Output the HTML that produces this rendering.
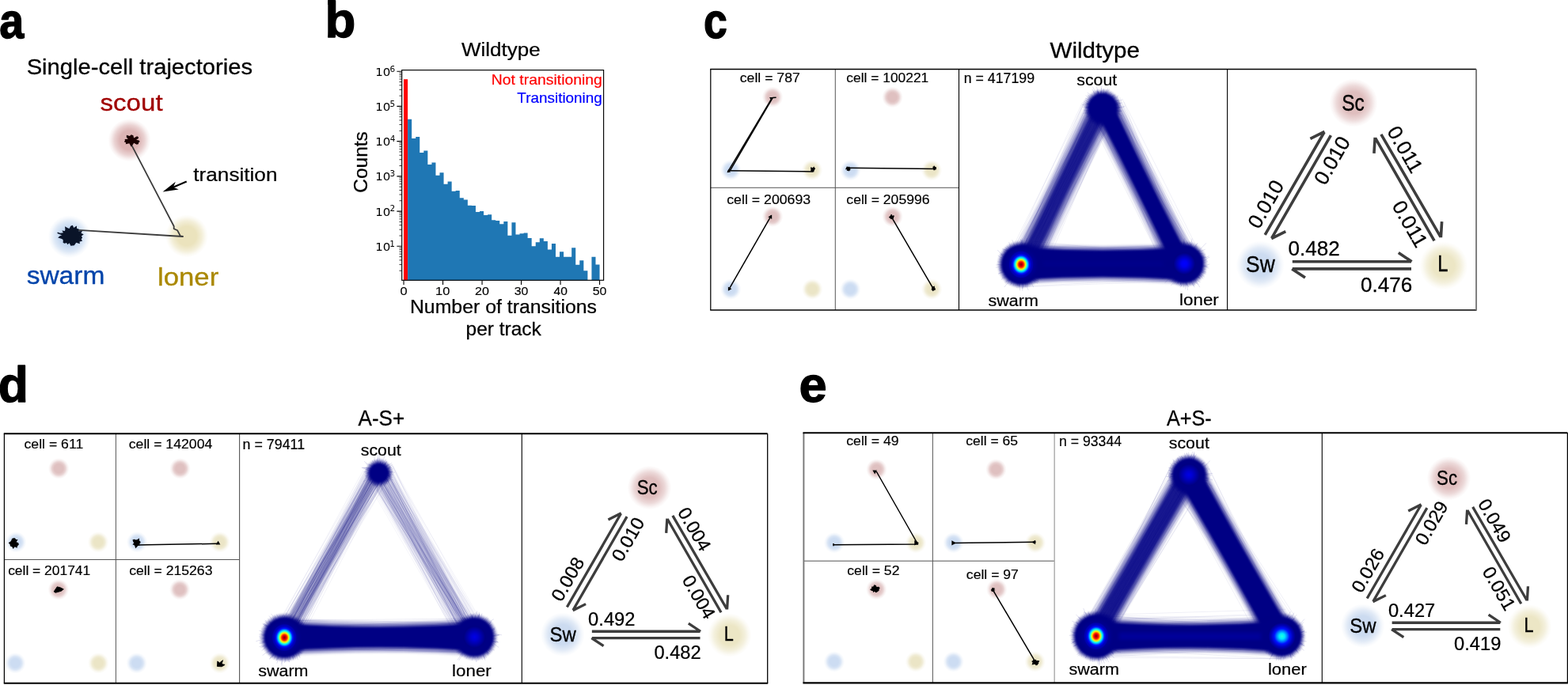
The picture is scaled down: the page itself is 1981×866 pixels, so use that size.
<!DOCTYPE html>
<html lang="en">
<head>
<meta charset="utf-8">
<title>Single-cell trajectories and state transitions</title>
<style>
html,body{margin:0;padding:0;background:#fff;}
body{width:1981px;height:866px;overflow:hidden;}
svg{display:block;}
text{font-family:"Liberation Sans",Arial,sans-serif;stroke:#000;stroke-linejoin:round;}
text.dj{font-family:"DejaVu Sans","Liberation Sans",sans-serif;stroke:none;}
</style>
</head>
<body>
<svg width="1981" height="866" viewBox="0 0 1981 866">
<defs>
<radialGradient id="gR"><stop offset="0" stop-color="#dcb4b4" stop-opacity="1"/><stop offset="0.45" stop-color="#dcb4b4" stop-opacity="1"/><stop offset="0.7" stop-color="#dcb4b4" stop-opacity="0.6"/><stop offset="0.88" stop-color="#dcb4b4" stop-opacity="0.18"/><stop offset="1" stop-color="#dcb4b4" stop-opacity="0"/></radialGradient>
<radialGradient id="gB"><stop offset="0" stop-color="#c5d8f0" stop-opacity="1"/><stop offset="0.45" stop-color="#c5d8f0" stop-opacity="1"/><stop offset="0.7" stop-color="#c5d8f0" stop-opacity="0.6"/><stop offset="0.88" stop-color="#c5d8f0" stop-opacity="0.18"/><stop offset="1" stop-color="#c5d8f0" stop-opacity="0"/></radialGradient>
<radialGradient id="gY"><stop offset="0" stop-color="#ebe3bd" stop-opacity="1"/><stop offset="0.45" stop-color="#ebe3bd" stop-opacity="1"/><stop offset="0.7" stop-color="#ebe3bd" stop-opacity="0.6"/><stop offset="0.88" stop-color="#ebe3bd" stop-opacity="0.18"/><stop offset="1" stop-color="#ebe3bd" stop-opacity="0"/></radialGradient>
<radialGradient id="gr"><stop offset="0" stop-color="#dfc0c0" stop-opacity="1"/><stop offset="0.42" stop-color="#dfc0c0" stop-opacity="1"/><stop offset="0.62" stop-color="#dfc0c0" stop-opacity="0.75"/><stop offset="0.82" stop-color="#dfc0c0" stop-opacity="0.25"/><stop offset="1" stop-color="#dfc0c0" stop-opacity="0"/></radialGradient>
<radialGradient id="gb"><stop offset="0" stop-color="#ccdcf2" stop-opacity="1"/><stop offset="0.42" stop-color="#ccdcf2" stop-opacity="1"/><stop offset="0.62" stop-color="#ccdcf2" stop-opacity="0.75"/><stop offset="0.82" stop-color="#ccdcf2" stop-opacity="0.25"/><stop offset="1" stop-color="#ccdcf2" stop-opacity="0"/></radialGradient>
<radialGradient id="gy"><stop offset="0" stop-color="#ebe5c6" stop-opacity="1"/><stop offset="0.42" stop-color="#ebe5c6" stop-opacity="1"/><stop offset="0.62" stop-color="#ebe5c6" stop-opacity="0.75"/><stop offset="0.82" stop-color="#ebe5c6" stop-opacity="0.25"/><stop offset="1" stop-color="#ebe5c6" stop-opacity="0"/></radialGradient>
<radialGradient id="gR2"><stop offset="0" stop-color="#dfbebe" stop-opacity="1"/><stop offset="0.45" stop-color="#dfbebe" stop-opacity="1"/><stop offset="0.7" stop-color="#dfbebe" stop-opacity="0.6"/><stop offset="0.88" stop-color="#dfbebe" stop-opacity="0.18"/><stop offset="1" stop-color="#dfbebe" stop-opacity="0"/></radialGradient>
<radialGradient id="gB2"><stop offset="0" stop-color="#ccdbf0" stop-opacity="1"/><stop offset="0.45" stop-color="#ccdbf0" stop-opacity="1"/><stop offset="0.7" stop-color="#ccdbf0" stop-opacity="0.6"/><stop offset="0.88" stop-color="#ccdbf0" stop-opacity="0.18"/><stop offset="1" stop-color="#ccdbf0" stop-opacity="0"/></radialGradient>
<radialGradient id="gY2"><stop offset="0" stop-color="#ece6c5" stop-opacity="1"/><stop offset="0.45" stop-color="#ece6c5" stop-opacity="1"/><stop offset="0.7" stop-color="#ece6c5" stop-opacity="0.6"/><stop offset="0.88" stop-color="#ece6c5" stop-opacity="0.18"/><stop offset="1" stop-color="#ece6c5" stop-opacity="0"/></radialGradient>
<radialGradient id="hotS"><stop offset="0" stop-color="#800000" stop-opacity="1"/><stop offset="0.1" stop-color="#c00000" stop-opacity="1"/><stop offset="0.2" stop-color="#ff1000" stop-opacity="1"/><stop offset="0.28" stop-color="#ff8000" stop-opacity="1"/><stop offset="0.35" stop-color="#ffee00" stop-opacity="1"/><stop offset="0.43" stop-color="#80ff80" stop-opacity="1"/><stop offset="0.51" stop-color="#00f0ff" stop-opacity="1"/><stop offset="0.6" stop-color="#0080ff" stop-opacity="1"/><stop offset="0.69" stop-color="#0010ff" stop-opacity="1"/><stop offset="0.84" stop-color="#0000c0" stop-opacity="1"/><stop offset="1" stop-color="#0000a8" stop-opacity="1"/></radialGradient>
<radialGradient id="hotG"><stop offset="0" stop-color="#0000b0" stop-opacity="1"/><stop offset="0.55" stop-color="#0000a2" stop-opacity="0.9"/><stop offset="0.8" stop-color="#000090" stop-opacity="0.5"/><stop offset="1" stop-color="#00007f" stop-opacity="0"/></radialGradient>
<radialGradient id="hotB"><stop offset="0" stop-color="#0000ff" stop-opacity="1"/><stop offset="0.25" stop-color="#0000f4" stop-opacity="1"/><stop offset="0.6" stop-color="#0000c0" stop-opacity="1"/><stop offset="1" stop-color="#00007f" stop-opacity="1"/></radialGradient>
<radialGradient id="hotB2"><stop offset="0" stop-color="#0000e6" stop-opacity="1"/><stop offset="0.3" stop-color="#0000d0" stop-opacity="1"/><stop offset="1" stop-color="#00007f" stop-opacity="1"/></radialGradient>
<radialGradient id="hotC"><stop offset="0" stop-color="#20ffe0" stop-opacity="1"/><stop offset="0.2" stop-color="#00e8ff" stop-opacity="1"/><stop offset="0.38" stop-color="#0080ff" stop-opacity="1"/><stop offset="0.55" stop-color="#0010ff" stop-opacity="1"/><stop offset="0.78" stop-color="#0000b8" stop-opacity="1"/><stop offset="1" stop-color="#00007f" stop-opacity="1"/></radialGradient>
<linearGradient id="midB" x1="0" y1="0" x2="0" y2="1"><stop offset="0" stop-color="#00007f"/><stop offset="0.5" stop-color="#0000a6"/><stop offset="1" stop-color="#00007f"/></linearGradient>
<filter id="bl1" x="-20%" y="-20%" width="140%" height="140%"><feGaussianBlur stdDeviation="1.3"/></filter>
<filter id="bl3" x="-20%" y="-20%" width="140%" height="140%"><feGaussianBlur stdDeviation="2.6"/></filter>
</defs>
<rect width="1981" height="866" fill="#fff"/>
<g id="panel-a">
<text transform="translate(-0.73 47.7) scale(0.8763 1.0000)" font-size="63.5" font-weight="bold" stroke-width="1.45">a</text>
<text transform="translate(33.64 94.3) scale(1.0614 1.0000)" font-size="27.5" stroke-width="0.29">Single-cell trajectories</text>
<text transform="translate(126.56 139.7) scale(1.0949 1.0000)" font-size="30.2" style="fill:#a00000;stroke:#a00000" stroke-width="0.3">scout</text>
<text transform="translate(33.65 359.4) scale(1.0888 1.0000)" font-size="30.8" style="fill:#0044aa;stroke:#0044aa" stroke-width="0.31">swarm</text>
<text transform="translate(198.92 360.8) scale(1.1152 1.0000)" font-size="31.2" style="fill:#aa8800;stroke:#aa8800" stroke-width="0.31">loner</text>
<text transform="translate(244.34 228.8) scale(1.0948 1.0000)" font-size="23.9" stroke-width="0.24">transition</text>
<circle cx="163.6" cy="177.2" r="27" fill="url(#gR)"/>
<circle cx="87.7" cy="299.2" r="27" fill="url(#gB)"/>
<circle cx="236" cy="298.4" r="27" fill="url(#gY)"/>
<polyline points="165.7,182.4 219.7,286 219.7,289.2 224.2,291.3 227.9,298.3 231,299 95,290.6" fill="none" stroke="#3c3c3c" stroke-width="1.8" stroke-linejoin="round"/>
<path d="M72.6 294.2L82 298" stroke="#0a1428" stroke-width="1.6" fill="none"/>
<polygon points="175.61,177.6 176.73,179.1 175.09,180.24 174.97,181.99 172.81,182.79 169.09,180.77 168.11,182.4 165.68,185.57 164.19,182.67 163.28,181.23 158.77,182.37 159.12,180.31 156.84,179.23 158.02,177.6 157.57,176.08 161.78,175.79 159.78,173.41 159.89,170.84 163.84,171.94 165.79,170.21 168.41,171.24 169.08,174.44 173.09,172.15 174.88,173.26 174.86,175.03 172.05,176.84" fill="#1a0000"/>
<polygon points="102.86,298.4 104.1,300.42 102.68,302.16 103.98,304.86 100.55,305.46 100.84,308.37 96.24,306.65 95.18,308.36 93.78,310.32 91.54,310.6 89.3,310.82 87.68,307.22 85.25,309.17 84.16,307.12 81.47,307.71 79.58,306.79 79.79,304.37 79.4,302.75 77.37,301.75 73.22,300.6 75.31,298.4 78.75,296.96 75.91,294.64 79.92,294.27 78.34,291.52 81.92,292.02 82.41,290.21 82.06,286.13 85.49,288.26 87.56,288.93 89.3,285.77 91.8,284.79 93.19,288.07 96.84,285.62 97.13,289.1 99.56,289.54 99.27,292.14 103.97,291.95 102.39,294.73 105.74,296.15" fill="#0a1428"/>
<path d="M235.7 229.4 L217 237.6" stroke="#000" stroke-width="2.2" fill="none"/>
<path d="M205.6 242.5 L221.8 229.7 L218.9 236.8 L225.8 239.6 Z" fill="#000"/>
</g>
<g id="panel-b">
<text transform="translate(410.4 47.2) scale(1.0019 1.0000)" font-size="63.5" font-weight="bold" stroke-width="1.27">b</text>
<rect x="414.3" y="0" width="9.5" height="6" fill="#000"/>
<text transform="translate(582.9 70.6) scale(1.0836 1.0000)" font-size="24" stroke-width="0.24">Wildtype</text>
<rect x="510.05" y="100.2" width="5.05" height="254.1" fill="#f00"/>
<path d="M515.1 354.3 V150.7 H520.15 V175 H525.2 V172.9 H530.25 V193.1 H535.31 V190.5 H540.36 V208.1 H545.41 V205.4 H550.46 V221.8 H555.51 V218.3 H560.56 V232.8 H565.61 V229.6 H570.66 V241.8 H575.71 V240.9 H580.76 V250.3 H585.82 V252.4 H590.87 V259.7 H595.92 V260.1 H600.97 V268 H606.02 V267.1 H611.07 V271.9 H616.12 V271.2 H621.17 V278.2 H626.22 V279 H631.27 V283.2 H636.33 V279.9 H641.38 V297.8 H646.43 V281.2 H651.48 V296.4 H656.53 V295.3 H661.58 V294.5 H666.63 V301 H671.68 V311.2 H676.73 V306.3 H681.78 V301.3 H686.84 V305.1 H691.89 V315.6 H696.94 V308 H701.99 V324.8 H707.04 V318.2 H712.09 V324.8 H717.14 V324.8 H722.19 V313.3 H727.24 V334.7 H732.29 V329.2 H737.35 V342.3 H742.4 V354.3 H747.45 V324.8 H752.5 V334.5 H757.55 V354.3 Z" fill="#1f77b4"/>
<path d="M501.4 311.3H507.7M501.4 267.08H507.7M501.4 222.86H507.7M501.4 178.64H507.7M501.4 134.42H507.7M501.4 90.2H507.7M510.05 354.3V360.1M559.55 354.3V360.1M609.05 354.3V360.1M658.55 354.3V360.1M708.05 354.3V360.1M757.55 354.3V360.1" stroke="#000" stroke-width="1.1" fill="none"/>
<path d="M504.5 342.21H507.7M504.5 334.42H507.7M504.5 328.9H507.7M504.5 324.61H507.7M504.5 321.11H507.7M504.5 318.15H507.7M504.5 315.59H507.7M504.5 313.32H507.7M504.5 297.99H507.7M504.5 290.2H507.7M504.5 284.68H507.7M504.5 280.39H507.7M504.5 276.89H507.7M504.5 273.93H507.7M504.5 271.37H507.7M504.5 269.1H507.7M504.5 253.77H507.7M504.5 245.98H507.7M504.5 240.46H507.7M504.5 236.17H507.7M504.5 232.67H507.7M504.5 229.71H507.7M504.5 227.15H507.7M504.5 224.88H507.7M504.5 209.55H507.7M504.5 201.76H507.7M504.5 196.24H507.7M504.5 191.95H507.7M504.5 188.45H507.7M504.5 185.49H507.7M504.5 182.93H507.7M504.5 180.66H507.7M504.5 165.33H507.7M504.5 157.54H507.7M504.5 152.02H507.7M504.5 147.73H507.7M504.5 144.23H507.7M504.5 141.27H507.7M504.5 138.71H507.7M504.5 136.44H507.7M504.5 121.11H507.7M504.5 113.32H507.7M504.5 107.8H507.7M504.5 103.51H507.7M504.5 100.01H507.7M504.5 97.05H507.7M504.5 94.49H507.7M504.5 92.22H507.7" stroke="#000" stroke-width="0.8" fill="none"/>
<rect x="507.7" y="88.6" width="254.9" height="265.7" fill="none" stroke="#000" stroke-width="1.15"/>
<text class="dj" transform="translate(474.25 316.9) scale(1.0739 1)" font-size="14">10<tspan x="16.67" dy="-5.3" font-size="9.8">1</tspan></text>
<text class="dj" transform="translate(474.25 272.68) scale(1.0739 1)" font-size="14">10<tspan x="17.03" dy="-5.3" font-size="9.8">2</tspan></text>
<text class="dj" transform="translate(474.25 228.46) scale(1.0739 1)" font-size="14">10<tspan x="17.01" dy="-5.3" font-size="9.8">3</tspan></text>
<text class="dj" transform="translate(474.25 184.24) scale(1.0739 1)" font-size="14">10<tspan x="17.28" dy="-5.3" font-size="9.8">4</tspan></text>
<text class="dj" transform="translate(474.25 140.02) scale(1.0739 1)" font-size="14">10<tspan x="16.98" dy="-5.3" font-size="9.8">5</tspan></text>
<text class="dj" transform="translate(474.25 95.8) scale(1.0739 1)" font-size="14">10<tspan x="17.06" dy="-5.3" font-size="9.8">6</tspan></text>
<text transform="translate(505.47 372.9) scale(1.1823 1.0000)" font-size="13.9" stroke-width="0.13">0</text>
<text transform="translate(550.09 372.9) scale(1.1862 1.0000)" font-size="13.9" stroke-width="0.13">10</text>
<text transform="translate(600.02 372.9) scale(1.1572 1.0000)" font-size="13.9" stroke-width="0.13">20</text>
<text transform="translate(649.73 372.9) scale(1.1432 1.0000)" font-size="13.9" stroke-width="0.13">30</text>
<text transform="translate(699.47 372.9) scale(1.1269 1.0000)" font-size="13.9" stroke-width="0.14">40</text>
<text transform="translate(748.69 372.9) scale(1.1460 1.0000)" font-size="13.9" stroke-width="0.13">50</text>
<text transform="translate(517.88 396) scale(1.0627 1.0000)" font-size="23.4" stroke-width="0.24">Number of transitions</text>
<text transform="translate(588.54 424.1) scale(1.0462 1.0000)" font-size="23.4" stroke-width="0.25">per track</text>
<text transform="translate(455.9 204.7) rotate(-90) scale(1.0197 1) translate(-38.19 8.25)" font-size="24" stroke-width="0.26">Counts</text>
<text transform="translate(620.8 107.1) scale(1.0834 1.0000)" font-size="17.9" style="fill:#f00;stroke:#f00" stroke-width="0.18">Not transitioning</text>
<text transform="translate(653.37 129.8) scale(1.0560 1.0000)" font-size="17.9" style="fill:#00f;stroke:#00f" stroke-width="0.19">Transitioning</text>
</g>
<g id="panel-c">
<text transform="translate(889.09 47.5) scale(0.8441 1.0000)" font-size="63.5" font-weight="bold" stroke-width="1.5">c</text>
<text transform="translate(1326.51 73) scale(1.0634 1.0000)" font-size="27.8" stroke-width="0.29">Wildtype</text>
<text transform="translate(934.74 104.4) scale(1.0385 1.0000)" font-size="17" stroke-width="0.18">cell = 787</text>
<circle cx="976" cy="122.7" r="13.2" fill="url(#gr)"/>
<circle cx="923.2" cy="214.9" r="13.2" fill="url(#gb)"/>
<circle cx="1026" cy="214.9" r="13.2" fill="url(#gy)"/>
<polyline points="975.2,124.2 919.3,217.6" fill="none" stroke="#000" stroke-width="1.5" stroke-linejoin="round"/>
<polyline points="922.4,215.6 976.2,123.6 980.6,123.2" fill="none" stroke="#000" stroke-width="1.5" stroke-linejoin="round"/>
<polyline points="920,215.8 1027.3,216.9" fill="none" stroke="#000" stroke-width="1.5" stroke-linejoin="round"/>
<polygon points="1029.44,214.3 1028.8,215.21 1028.49,216.06 1028.32,217.55 1027.29,217.21 1026.56,216.84 1025.7,217.05 1024.74,216.69 1024.14,215.63 1024.49,214.3 1024.13,212.97 1024.14,211.24 1025.77,211.71 1026.63,212.3 1027.28,211.45 1028.53,210.56 1028.88,212.1 1030.13,212.75" fill="#000"/>
<polygon points="976.55,122.9 974.3,126.8 972.05,122.9" fill="#000"/>
<polygon points="918.61,218.17 920.15,213.94 923.04,217.39" fill="#000"/>
<text transform="translate(1069.35 104.4) scale(1.0237 1.0000)" font-size="17" stroke-width="0.18">cell = 100221</text>
<circle cx="1127.5" cy="122.9" r="13.2" fill="url(#gr)"/>
<circle cx="1074.4" cy="215.3" r="13.2" fill="url(#gb)"/>
<circle cx="1177" cy="215.3" r="13.2" fill="url(#gy)"/>
<polyline points="1070,212.2 1182,213.4" fill="none" stroke="#000" stroke-width="1.5" stroke-linejoin="round"/>
<polygon points="1075.79,213 1073.71,213.61 1074.62,215.09 1073.48,215.56 1072.48,216.42 1071.26,215.71 1069.84,215.99 1069.99,214.34 1068.04,214.21 1068.67,213 1068.97,212.09 1069.56,211.34 1070.02,210.28 1071.46,211.28 1072.37,210.17 1072.75,211.55 1074,211.37 1074.05,212.28" fill="#000"/>
<polygon points="1183.12,212.8 1182.71,213.63 1182.59,214.61 1181.33,214.17 1181.05,215.54 1180.23,215.07 1179.35,215.14 1179.31,213.98 1178.47,213.64 1178.7,212.8 1178.48,211.97 1178.39,210.79 1179.41,210.57 1180.01,209.17 1181.03,210.16 1181.5,211.11 1182.51,211.06 1182.91,211.89" fill="#000"/>
<text transform="translate(918.24 257.7) scale(1.0428 1.0000)" font-size="17" stroke-width="0.18">cell = 200693</text>
<circle cx="976" cy="273.7" r="13.2" fill="url(#gr)"/>
<circle cx="923.2" cy="365.6" r="13.2" fill="url(#gb)"/>
<circle cx="1026.3" cy="365.6" r="13.2" fill="url(#gy)"/>
<polyline points="974.5,272.4 920.6,366.4" fill="none" stroke="#000" stroke-width="1.5" stroke-linejoin="round"/>
<polygon points="975.2,271.43 975.2,276.97 970.4,274.2" fill="#000"/>
<polygon points="919.9,367.8 919.9,362.6 924.4,365.2" fill="#000"/>
<text transform="translate(1069.35 257.7) scale(1.0358 1.0000)" font-size="17" stroke-width="0.18">cell = 205996</text>
<circle cx="1127.6" cy="273.7" r="13.2" fill="url(#gr)"/>
<circle cx="1074.3" cy="365.6" r="13.2" fill="url(#gb)"/>
<circle cx="1177.2" cy="365.6" r="13.2" fill="url(#gy)"/>
<polyline points="1125.9,273.7 1179.2,365.1" fill="none" stroke="#000" stroke-width="1.5" stroke-linejoin="round"/>
<polygon points="1129.15,274.3 1129.17,275.31 1128.87,276.37 1127.76,276.65 1126.89,277.07 1125.88,277.27 1125.16,276.45 1124.23,276.12 1123.65,275.3 1122.86,274.3 1124.15,273.48 1124.63,272.82 1125.21,272.23 1125.78,270.77 1126.92,271.35 1127.22,272.87 1128.92,272.19 1130.13,272.94" fill="#000"/>
<polygon points="1181.6,365 1182.23,366.36 1180.7,366.64 1180.16,367.31 1179.38,367.47 1178.49,368.35 1177.85,367.31 1177.35,366.6 1176.28,366.14 1177.44,365 1176.86,364.1 1177.36,363.42 1177.55,362.11 1178.56,362.11 1179.47,361.91 1180.77,361.46 1180.8,363.26 1181.32,364.02" fill="#000"/>
<g fill="none" stroke="#000084" stroke-width="0.55" stroke-linecap="round">
<path d="M1382.0 133.8L1295.2 331.6M1382.8 131.0L1282.0 322.6M1389.5 137.1L1291.5 329.8M1401.8 141.9L1309.7 335.3M1388.1 131.4L1305.6 336.0M1392.8 128.5L1295.1 332.9M1392.8 138.7L1296.0 334.4M1399.8 140.6L1301.6 335.7M1392.8 140.5L1289.6 330.0M1395.1 137.1L1286.6 333.8M1378.5 135.3L1288.3 329.2M1385.7 132.2L1285.4 328.1M1394.7 141.4L1296.7 332.0M1393.3 141.8L1292.6 333.7M1393.7 140.9L1297.1 337.1M1390.7 137.3L1296.9 331.3M1379.6 130.5L1286.5 331.8M1380.1 127.9L1293.6 331.6M1410.7 142.9L1299.8 333.1M1388.7 130.5L1292.7 340.2M1407.6 142.9L1301.5 338.7M1395.7 135.7L1304.1 339.1M1404.6 135.1L1291.3 331.2M1372.0 123.5L1290.3 328.0M1382.8 133.2L1278.6 327.7M1371.3 127.3L1273.3 325.1M1380.1 128.1L1294.5 337.4M1367.3 129.8L1276.5 324.7M1391.7 134.7L1284.0 327.1M1383.9 127.7L1283.4 332.4M1401.5 142.5L1297.3 333.8M1386.5 135.1L1288.7 334.3M1383.8 130.8L1290.0 331.6M1387.0 132.6L1274.1 324.4M1385.2 130.9L1292.7 334.1M1405.9 142.8L1307.7 343.7M1388.8 135.9L1279.8 333.7M1384.2 137.5L1287.0 333.3M1388.4 129.7L1293.7 339.7M1393.5 131.5L1305.0 340.6M1377.8 127.5L1293.6 331.0M1380.9 131.4L1288.7 333.7M1386.2 136.3L1288.2 331.3M1370.1 125.8L1286.5 328.3M1379.8 131.6L1287.7 331.5" opacity="0.12"/>
<path d="M1385.2 133.5L1290.3 325.1M1409.0 142.5L1312.0 344.6M1389.0 136.4L1305.8 343.1M1396.6 135.2L1297.6 339.4M1393.0 136.5L1285.6 332.6M1388.6 129.2L1297.5 333.0M1389.1 135.3L1300.6 339.3M1387.5 133.5L1297.1 334.9M1394.3 135.9L1293.3 328.4M1394.8 139.7L1294.9 340.7M1387.9 134.2L1299.3 336.2M1400.6 139.4L1300.0 341.9M1401.5 140.0L1306.9 341.8M1405.8 149.0L1300.8 343.6M1382.0 128.5L1300.2 331.9M1382.4 134.9L1278.7 328.5M1393.2 145.1L1291.7 332.4M1408.8 138.0L1313.9 345.4M1391.9 133.6L1286.9 330.2M1396.8 137.6L1286.7 331.7M1398.3 144.6L1311.5 337.9M1402.1 142.8L1298.7 334.8M1379.4 134.2L1286.4 334.8M1388.4 130.8L1290.3 335.4M1393.7 140.9L1288.0 330.2M1374.5 130.2L1281.2 331.8M1400.6 139.3L1292.9 331.7M1394.3 137.3L1292.0 336.5M1400.9 137.5L1305.8 334.6M1395.1 146.5L1289.9 327.8M1376.4 127.3L1281.8 328.7M1382.4 131.0L1296.0 333.1M1390.7 134.7L1287.6 331.4M1403.9 144.8L1317.3 345.4M1379.1 129.8L1285.3 334.9M1396.7 137.9L1309.1 348.4M1381.2 134.3L1306.9 340.2M1406.9 135.8L1306.4 334.7M1391.7 139.7L1300.6 342.2M1378.4 129.2L1281.8 327.6M1402.0 142.4L1294.2 335.4M1399.7 135.0L1303.9 338.9M1390.4 134.6L1289.9 333.1M1394.8 142.5L1298.5 336.3M1402.1 141.1L1298.5 338.0" opacity="0.12"/>
<path d="M1387.4 135.8L1485.0 334.9M1399.5 133.6L1499.4 325.2M1386.1 143.8L1494.1 335.9M1401.3 130.3L1496.5 324.9M1380.0 145.0L1483.2 336.3M1392.5 140.5L1486.8 339.6M1395.6 133.8L1509.4 322.4M1395.2 134.5L1481.7 342.9M1403.1 131.3L1495.8 336.8M1389.9 135.4L1482.1 336.3M1396.3 138.1L1488.3 342.3M1411.8 126.6L1514.9 322.7M1392.6 141.9L1502.9 329.3M1393.1 134.4L1499.5 329.8M1390.8 136.9L1480.2 340.1M1396.2 141.1L1481.5 334.7M1392.9 134.1L1492.0 332.9M1381.5 142.5L1501.9 323.9M1392.7 136.3L1479.5 331.3M1411.2 132.5L1485.9 332.9M1379.5 140.1L1479.3 339.0M1403.6 131.4L1501.8 329.6M1379.6 145.3L1494.7 333.3M1394.4 138.0L1479.9 339.1M1403.4 136.5L1486.0 332.6M1418.2 125.1L1497.8 331.3M1400.0 135.5L1502.6 327.8M1398.2 135.0L1500.6 327.7M1389.5 141.6L1499.1 333.7M1411.2 128.8L1511.3 327.6M1407.5 128.2L1502.2 333.5M1383.3 139.0L1487.1 336.1M1392.8 136.6L1490.3 332.6M1416.9 128.7L1510.1 327.0M1396.9 129.4L1489.7 334.6M1406.7 129.6L1487.6 342.4M1378.0 152.1L1475.9 347.4M1378.7 144.4L1487.8 333.7M1389.7 135.9L1484.3 338.5M1400.3 134.1L1481.6 342.4M1387.2 135.9L1493.1 332.4M1388.1 132.9L1493.3 334.1M1407.6 130.3L1506.5 326.3M1402.1 135.4L1501.1 338.0M1377.4 146.3L1480.8 339.7" opacity="0.12"/>
<path d="M1382.0 140.5L1474.1 346.5M1390.9 138.4L1492.0 330.4M1404.9 131.5L1497.3 334.3M1395.5 131.9L1509.3 323.5M1390.4 135.1L1485.5 341.2M1401.3 138.2L1499.8 328.3M1380.2 143.5L1486.9 340.4M1390.5 135.2L1497.0 339.4M1375.7 142.5L1486.6 338.9M1401.2 130.8L1494.5 336.0M1390.4 132.5L1474.1 344.3M1400.9 139.5L1513.0 323.0M1395.8 134.6L1486.7 334.3M1395.7 132.6L1491.2 332.2M1407.4 138.7L1508.1 329.4M1385.5 142.0L1490.8 334.4M1407.1 131.3L1512.0 325.1M1401.9 130.6L1491.2 336.0M1410.9 130.3L1497.0 334.7M1396.3 135.5L1502.0 338.1M1390.2 141.6L1494.1 329.9M1393.7 135.6L1509.5 329.5M1411.8 123.8L1506.3 326.0M1384.8 142.2L1489.7 343.0M1399.6 133.8L1492.8 331.8M1414.9 123.0L1493.0 337.9M1410.4 130.4L1502.7 333.0M1409.1 127.0L1509.4 318.3M1381.4 146.7L1490.7 335.0M1411.7 130.5L1508.5 324.6M1412.9 127.7L1488.0 337.8M1403.4 134.0L1504.1 330.1M1396.7 133.0L1504.1 329.9M1388.3 141.6L1476.1 341.5M1403.7 132.6L1484.4 338.2M1400.6 134.2L1496.6 336.3M1401.7 136.2L1487.3 336.3M1413.4 127.7L1501.1 328.0M1394.0 139.5L1483.9 333.9M1391.6 132.5L1494.3 330.5M1379.3 142.8L1498.6 332.3M1383.5 141.9L1496.3 330.3M1389.4 139.2L1490.1 338.1M1402.3 134.7L1503.5 336.3M1420.2 129.1L1519.4 327.5" opacity="0.12"/>
<path d="M1291.3 328.7L1498.5 311.7M1290.9 349.9L1495.9 339.1M1288.3 342.6L1500.2 337.7M1295.5 318.8L1495.9 317.3M1289.8 329.0L1500.5 329.5M1292.3 344.9L1490.4 352.3M1291.0 330.6L1493.9 320.4M1290.5 348.3L1497.7 329.4M1289.1 332.7L1496.5 332.7M1290.8 333.1L1497.9 318.1M1286.9 325.2L1494.0 334.0M1287.3 331.9L1499.3 346.8M1287.2 311.6L1492.9 313.6M1287.5 331.1L1491.6 324.7M1290.5 348.8L1498.3 341.0M1283.8 332.4L1500.1 323.2M1287.1 331.2L1500.6 329.0M1288.6 342.0L1493.1 334.8M1291.0 341.3L1492.3 348.3M1289.6 338.7L1498.2 345.4M1287.8 328.5L1497.5 342.4M1288.5 340.1L1493.2 348.6M1290.4 328.2L1498.8 337.8M1287.1 328.6L1497.4 339.0M1285.5 332.4L1493.7 342.4M1289.0 312.6L1498.0 323.2M1293.3 332.5L1495.5 324.0M1292.1 314.8L1497.8 327.3M1294.4 328.3L1495.6 326.9M1283.5 323.2L1497.3 315.9M1290.4 324.8L1495.5 348.2M1290.2 333.1L1498.2 320.0M1293.6 313.9L1496.8 335.9M1292.8 334.8L1494.2 333.3M1291.3 332.7L1497.4 341.0M1291.6 337.8L1501.4 312.5M1287.3 327.8L1489.9 330.0M1288.8 346.3L1498.2 338.3M1291.6 327.1L1490.4 340.8M1285.3 354.5L1495.0 355.4M1291.0 337.9L1494.7 334.9M1288.2 329.2L1497.5 318.3M1290.6 334.2L1501.5 339.1M1285.9 331.1L1498.0 334.6M1291.1 337.7L1498.6 348.4" opacity="0.12"/>
<path d="M1288.6 358.8L1495.2 342.4M1285.4 343.0L1492.4 349.7M1292.8 323.8L1500.4 319.3M1293.2 345.2L1493.2 324.2M1293.9 325.5L1499.1 328.1M1289.8 334.6L1493.5 335.3M1285.4 327.0L1495.1 332.4M1290.1 303.8L1492.7 323.3M1292.1 335.1L1492.9 319.4M1288.3 333.7L1496.3 318.8M1290.0 319.5L1498.9 308.2M1287.7 323.6L1496.8 343.6M1292.8 336.9L1497.2 321.8M1290.8 336.6L1498.4 342.7M1291.2 320.4L1493.2 339.5M1289.3 317.2L1499.1 315.1M1284.7 330.3L1501.8 346.9M1282.2 337.0L1494.3 337.8M1290.8 321.4L1493.4 320.6M1292.8 341.0L1494.2 321.1M1288.8 342.3L1494.0 354.3M1295.8 324.3L1498.9 311.4M1289.7 318.4L1496.0 336.7M1292.5 345.2L1492.5 345.4M1285.8 332.3L1494.8 326.9M1288.1 362.6L1499.4 350.7M1295.1 362.6L1494.7 354.8M1285.5 333.4L1496.5 332.2M1287.7 351.2L1499.7 328.6M1292.3 332.1L1499.8 335.2M1287.8 315.8L1497.1 335.1M1291.5 322.0L1490.0 330.5M1287.0 334.4L1500.6 339.4M1286.8 343.4L1497.1 341.5M1286.2 325.2L1495.8 320.6M1290.2 341.1L1498.3 345.3M1288.0 340.5L1493.7 322.8M1286.0 316.1L1501.0 319.3M1294.2 340.1L1488.8 345.7M1288.0 309.7L1496.9 320.7M1290.7 332.3L1497.6 324.3M1287.3 318.5L1494.0 331.1M1290.1 330.5L1496.1 333.9M1288.6 343.4L1495.2 333.1M1290.4 323.7L1500.6 345.3" opacity="0.12"/>
<path d="M1387.9 149.2L1385.1 158.6M1406.1 131.6L1416.3 130.5M1390.1 122.7L1392.0 108.4M1380.7 129.9L1372.0 120.7M1394.0 150.1L1392.7 158.3M1385.8 148.1L1381.4 154.2M1403.5 127.3L1408.4 122.1M1389.3 122.9L1383.0 117.5M1388.8 123.1L1387.4 116.7M1393.3 150.2L1393.2 159.2M1379.6 132.8L1369.9 128.5M1381.1 129.1L1372.5 124.8M1387.8 123.4L1385.5 114.9M1379.5 139.4L1371.8 140.0M1380.1 141.5L1374.5 144.6M1397.5 149.4L1401.0 156.1M1401.1 147.6L1408.6 159.2M1406.4 132.8L1413.8 130.6M1379.5 139.6L1368.7 143.3M1397.0 123.0L1401.2 116.2M1401.5 125.4L1408.1 121.5M1390.7 122.6L1391.3 116.3M1380.2 131.0L1369.0 132.4M1379.8 132.0L1369.2 130.6M1386.9 148.8L1386.2 157.7M1398.5 149.0L1409.1 157.6M1379.1 135.9L1367.5 132.8M1380.7 142.7L1374.2 144.7M1381.0 143.3L1374.7 151.7M1380.0 131.5L1367.9 132.3M1382.2 127.5L1376.1 124.5M1395.3 150.0L1396.0 156.2M1379.9 140.8L1373.8 142.6M1379.3 133.9L1372.2 135.7M1405.9 141.5L1416.4 140.4M1402.7 146.3L1407.6 155.0M1379.1 135.7L1371.9 136.6M1405.9 141.5L1412.4 147.4M1379.3 134.0L1372.9 137.3M1388.9 123.0L1385.6 110.3M1393.0 150.2L1392.3 159.9M1386.5 124.0L1387.1 116.0M1406.0 131.4L1412.1 127.6M1379.1 136.2L1367.6 135.1M1396.2 122.8L1401.6 112.7M1389.9 122.8L1387.6 115.2M1384.3 125.5L1378.7 119.3M1394.7 150.1L1396.5 156.3M1404.7 128.8L1412.5 120.7M1379.7 140.1L1369.3 139.8M1405.5 130.3L1408.6 122.7M1402.2 146.7L1405.2 157.0M1395.7 122.7L1397.7 113.3M1405.2 129.7L1412.9 125.9M1388.7 123.1L1386.8 115.6M1387.8 149.2L1377.5 155.4M1383.1 146.0L1374.3 155.4M1393.3 150.2L1396.1 157.7M1405.2 142.9L1412.1 150.5M1388.4 123.2L1385.8 114.1M1380.6 142.6L1372.2 143.1M1385.8 124.4L1382.1 114.7M1386.4 148.5L1381.7 156.7M1395.3 122.6L1399.7 113.7M1400.1 124.4L1404.9 119.6M1406.5 139.6L1413.2 139.5M1405.4 130.0L1412.1 123.2M1379.5 133.2L1371.3 126.2M1384.4 125.4L1381.3 115.5M1405.9 141.5L1417.8 140.1M1381.3 143.8L1372.6 148.2M1379.2 135.0L1371.5 129.8M1379.7 132.3L1373.3 130.8M1391.5 122.5L1391.7 114.8M1405.9 131.3L1411.1 124.8M1406.1 131.7L1414.4 133.0M1382.3 145.1L1376.9 154.1M1403.3 127.0L1406.9 121.5M1406.9 137.1L1415.2 135.1M1406.5 133.0L1415.3 133.1" opacity="0.22"/>
<path d="M1401.9 125.6L1407.2 120.6M1379.2 137.8L1372.8 136.1M1387.0 123.8L1384.9 117.6M1406.5 139.3L1417.7 146.5M1387.7 149.1L1380.8 159.9M1393.8 150.2L1390.9 160.5M1383.9 125.8L1375.5 120.5M1406.7 134.4L1415.7 139.4M1380.5 142.2L1374.5 147.6M1384.7 125.2L1374.1 117.3M1380.0 141.3L1370.3 143.2M1404.7 128.9L1417.5 126.4M1405.8 130.9L1413.1 129.4M1402.5 146.4L1411.7 151.1M1401.2 125.1L1408.9 120.0M1403.0 126.7L1409.8 122.7M1397.2 123.1L1396.3 115.5M1386.5 124.0L1379.9 112.9M1397.4 149.4L1403.0 162.3M1406.1 131.6L1411.1 126.7M1379.6 140.0L1373.8 147.0M1393.3 122.4L1396.5 116.6M1391.5 122.5L1387.5 116.7M1397.6 149.4L1407.1 155.7M1402.4 146.5L1408.0 152.0M1399.5 124.1L1404.7 118.2M1395.2 122.6L1394.5 112.5M1403.5 145.4L1410.2 147.9M1379.1 136.0L1369.4 134.8M1380.7 142.7L1373.3 143.8M1406.9 136.9L1414.7 135.6M1383.2 146.1L1376.3 149.4M1397.5 123.2L1403.8 116.2M1381.4 128.6L1374.1 119.5M1401.1 147.6L1407.6 158.8M1399.8 148.4L1403.8 158.2M1402.9 126.6L1410.0 121.0M1394.5 122.5L1394.5 113.3M1396.9 149.6L1398.4 156.7M1379.2 135.3L1371.9 136.3M1402.3 146.6L1403.6 154.8M1400.1 124.4L1408.3 119.9M1388.9 149.5L1385.0 162.2M1399.1 148.8L1404.4 158.9M1389.0 123.0L1391.3 115.7M1400.8 147.8L1404.2 154.1M1380.3 130.8L1371.8 127.1M1402.6 126.3L1406.7 119.4M1400.9 124.9L1405.6 120.7M1406.8 137.2L1419.7 135.7M1406.8 137.4L1421.0 134.3M1379.3 133.9L1372.0 132.9M1387.5 123.6L1387.1 112.7M1396.7 122.9L1399.6 111.9M1397.1 123.1L1403.8 118.8M1382.8 145.7L1379.7 153.3M1394.0 150.1L1392.0 160.0M1381.6 128.5L1371.6 124.5M1382.8 145.8L1376.8 157.1M1395.3 122.6L1391.3 111.2M1386.5 148.5L1384.3 155.2M1394.5 150.1L1394.7 159.7M1406.9 136.7L1413.9 134.3M1406.1 141.0L1412.0 144.9M1406.0 131.5L1412.2 129.4M1386.9 123.8L1384.7 115.7M1398.2 123.4L1397.5 116.4M1406.2 140.6L1413.9 139.9M1389.7 122.8L1390.6 115.2M1403.6 127.4L1412.6 122.0M1388.8 123.1L1380.6 110.2M1379.4 139.2L1370.7 140.9M1394.7 150.1L1398.9 158.9M1405.3 142.7L1412.1 143.9M1389.8 122.8L1388.5 116.6M1379.5 139.4L1373.4 142.0M1406.7 134.0L1416.2 130.0M1405.3 130.0L1413.1 126.2M1387.9 123.4L1386.6 115.0M1381.8 128.1L1373.9 121.4" opacity="0.22"/>
<path d="M1308.8 334.0L1317.2 337.3M1302.4 348.4L1308.6 355.5M1303.8 347.1L1313.1 351.6M1296.4 351.9L1291.7 364.8M1302.4 320.1L1310.9 305.4M1279.3 349.6L1269.1 362.7M1277.3 320.6L1270.7 315.6M1308.7 336.4L1320.0 334.7M1281.1 317.9L1275.6 311.3M1305.8 344.5L1311.8 353.3M1301.8 349.0L1310.8 358.4M1292.3 315.7L1288.7 305.5M1303.3 321.0L1312.6 310.9M1307.9 328.5L1317.0 325.3M1303.7 321.4L1307.3 312.5M1307.1 326.4L1314.2 319.3M1275.6 346.2L1268.5 351.6M1294.9 352.4L1298.2 359.9M1298.1 317.3L1295.1 307.7M1289.6 353.0L1293.9 363.0M1286.0 352.6L1287.1 361.6M1272.1 329.1L1260.5 316.3M1290.3 315.6L1291.4 301.8M1291.2 315.6L1286.9 306.7M1278.7 319.4L1274.8 306.3M1287.8 352.9L1284.2 361.5M1298.5 317.6L1299.2 306.4M1274.3 324.3L1264.1 322.5M1291.7 353.0L1291.9 364.2M1284.4 316.4L1277.4 308.7M1274.9 345.3L1265.2 353.4M1281.9 351.1L1276.2 360.5M1279.7 349.9L1271.8 355.5M1271.7 330.8L1261.0 323.2M1271.6 337.2L1260.1 334.1M1294.9 352.4L1298.0 360.4M1295.3 352.3L1295.6 362.7M1302.7 320.4L1305.6 311.9M1307.3 341.9L1318.9 344.0M1296.8 316.8L1305.3 309.1M1279.8 350.0L1277.8 358.2M1275.3 322.7L1264.7 321.3M1303.4 347.5L1310.6 357.5M1277.4 348.1L1268.0 352.6M1306.8 342.8L1318.5 344.8M1272.6 340.9L1264.9 345.2M1272.0 339.3L1261.9 346.1M1271.8 338.3L1263.5 338.1M1293.8 315.9L1289.3 302.6M1305.2 345.4L1315.9 350.1M1274.5 344.7L1266.4 348.3M1285.3 316.2L1285.5 307.0M1308.6 337.3L1317.9 339.1M1286.1 352.6L1282.4 361.7M1303.1 347.8L1311.9 356.6M1299.8 318.2L1304.3 304.5M1308.8 335.3L1321.6 337.4M1304.8 322.6L1314.9 316.9M1308.8 335.4L1325.2 333.0M1307.8 340.4L1315.4 343.0M1277.1 347.8L1273.4 358.9M1288.3 353.0L1287.0 361.9M1276.3 347.0L1266.6 351.1M1301.9 319.7L1308.7 309.9M1271.4 334.5L1258.6 335.0M1271.5 332.1L1260.5 330.9M1307.4 327.2L1317.2 323.2M1294.1 316.0L1297.0 301.8M1287.5 352.9L1288.7 367.0M1279.1 319.1L1267.8 314.9M1279.8 350.0L1273.9 355.6M1306.2 343.9L1312.1 356.2M1308.8 333.2L1319.8 333.5M1280.8 318.0L1271.9 311.4M1286.6 352.7L1284.9 363.6M1278.7 319.4L1270.1 313.0M1307.4 341.5L1314.5 350.3M1278.8 319.3L1270.0 315.4M1291.5 315.6L1291.5 304.5M1308.8 336.1L1318.9 333.5" opacity="0.22"/>
<path d="M1308.1 339.5L1318.6 338.5M1294.6 316.1L1300.9 305.5M1300.5 318.7L1304.0 308.5M1284.6 316.4L1278.8 303.5M1307.2 326.7L1317.5 321.8M1283.0 316.9L1277.1 310.7M1301.7 319.5L1303.7 305.9M1307.5 327.2L1311.2 318.2M1281.1 350.7L1269.6 356.6M1271.6 337.2L1262.2 339.9M1279.0 349.4L1272.2 354.0M1294.7 352.5L1296.5 360.4M1302.4 348.4L1308.2 357.6M1278.3 348.9L1270.7 358.4M1304.6 322.4L1316.3 318.1M1285.2 352.4L1277.7 358.8M1275.6 322.4L1267.2 316.4M1278.6 349.1L1274.7 355.9M1291.7 353.0L1291.8 367.3M1271.9 329.7L1262.8 327.7M1287.5 352.9L1287.9 362.1M1296.6 316.7L1297.8 301.6M1308.3 338.6L1318.6 342.5M1304.7 322.6L1314.1 319.9M1308.8 333.7L1324.8 334.9M1273.0 342.1L1263.1 342.2M1306.5 343.4L1312.1 353.3M1297.1 351.7L1301.2 359.0M1295.6 316.4L1292.8 307.5M1301.7 319.5L1306.8 311.6M1289.1 315.6L1290.3 303.3M1300.0 350.2L1306.5 355.7M1308.8 334.8L1318.4 334.2M1272.4 340.4L1264.6 342.3M1276.9 347.7L1270.9 354.6M1308.4 338.3L1318.9 343.1M1276.7 321.1L1268.4 315.2M1300.9 349.6L1307.8 356.8M1283.1 351.7L1275.1 358.2M1299.2 350.7L1305.6 362.8M1271.4 333.8L1263.9 329.9M1273.8 343.5L1266.3 350.5M1282.3 317.3L1275.9 309.1M1305.4 323.4L1312.3 314.7M1305.0 322.9L1313.5 316.2M1306.2 344.0L1315.1 353.3M1305.0 323.0L1316.5 317.2M1278.0 348.6L1270.6 357.1M1293.4 315.8L1294.9 307.6M1297.7 317.2L1305.0 306.3M1288.3 353.0L1287.0 363.8M1301.5 349.2L1311.0 355.4M1271.9 338.7L1262.8 341.5M1273.0 326.7L1264.5 325.5M1302.2 320.0L1309.0 305.0M1299.6 318.1L1305.3 311.8M1305.3 323.3L1312.4 317.7M1308.4 330.3L1317.9 331.3M1308.3 339.0L1317.2 341.5M1277.2 320.7L1266.3 314.6M1291.3 315.6L1293.8 308.0M1308.8 335.9L1321.2 333.2M1271.4 335.8L1258.3 338.1M1285.4 352.5L1285.5 361.0M1305.9 324.2L1313.0 315.7M1297.1 316.9L1302.7 307.3M1298.9 350.8L1298.3 361.8M1288.9 353.0L1288.7 361.3M1308.6 331.3L1316.7 330.6M1285.0 316.3L1280.4 308.4M1293.2 352.8L1299.1 366.6M1271.8 330.1L1265.2 321.3M1305.7 344.6L1317.1 348.5M1273.2 326.2L1268.2 317.6M1286.2 316.0L1284.3 308.2M1277.5 320.4L1271.0 313.8M1274.4 324.0L1265.3 320.6M1273.0 342.0L1261.4 346.0M1282.2 351.3L1280.4 361.2M1307.1 326.3L1321.5 314.3" opacity="0.22"/>
<path d="M1514.3 333.4L1525.4 330.6M1508.5 346.7L1512.9 353.5M1485.4 347.8L1481.8 354.7M1479.2 327.8L1470.7 323.0M1480.6 324.8L1472.4 321.2M1482.8 321.6L1476.0 317.4M1512.1 324.8L1520.7 324.2M1483.1 345.7L1472.1 357.3M1480.2 325.5L1473.0 319.3M1478.3 332.2L1465.7 332.6M1478.5 330.7L1468.9 332.2M1506.2 348.5L1511.0 355.4M1514.0 330.1L1523.6 328.4M1512.7 340.9L1523.7 344.4M1506.8 318.9L1511.7 310.8M1512.4 325.4L1522.5 321.3M1479.5 340.1L1464.8 342.3M1491.7 350.9L1482.8 359.5M1514.2 331.3L1527.9 325.3M1489.2 317.0L1492.4 307.2M1483.8 320.5L1479.1 310.3M1486.8 348.8L1485.0 356.9M1496.0 351.5L1499.5 360.0M1482.1 344.5L1474.9 351.8M1506.6 348.2L1510.8 356.1M1513.4 327.9L1520.5 324.8M1501.8 350.6L1504.0 360.8M1478.3 333.6L1469.5 333.3M1513.6 328.5L1523.6 325.3M1512.0 342.2L1521.8 344.8M1484.7 319.7L1477.4 303.0M1502.8 350.3L1507.5 360.5M1496.8 351.5L1498.2 360.6M1489.3 350.1L1482.1 356.0M1494.7 315.6L1495.2 306.7M1491.8 350.9L1488.0 357.7M1513.1 340.0L1523.2 343.6M1506.7 348.2L1516.6 351.8M1478.4 331.4L1468.6 331.1M1480.1 325.7L1469.2 315.6M1482.7 321.7L1474.0 318.9M1478.4 335.1L1468.2 335.3M1502.9 350.2L1510.1 360.4M1503.7 317.1L1506.0 302.0M1478.8 329.3L1470.0 327.2M1489.2 350.0L1479.7 360.8M1488.9 349.9L1488.4 359.1M1502.1 350.5L1503.1 359.2M1480.1 341.4L1467.9 340.0M1484.4 320.0L1479.0 312.3M1512.5 325.7L1520.8 324.9M1482.0 322.6L1475.8 316.2M1502.4 350.4L1508.9 363.0M1485.8 318.9L1479.8 308.2M1512.9 326.6L1521.3 325.5M1505.9 348.8L1513.6 359.5M1508.2 347.0L1516.0 351.5M1478.7 337.4L1469.6 332.8M1514.0 330.4L1527.2 323.8M1509.9 321.7L1520.2 320.5M1500.5 351.0L1506.5 361.1M1478.8 337.8L1469.6 334.5M1478.4 334.9L1469.4 332.2M1482.9 345.5L1476.1 349.5M1509.1 320.8L1522.4 315.3M1482.1 322.5L1471.4 319.9M1508.9 346.4L1511.8 354.5M1513.8 337.9L1520.3 342.5M1497.8 351.4L1491.4 362.9M1512.6 325.8L1522.8 324.6M1480.8 324.4L1472.0 317.8M1479.8 340.7L1468.3 345.6M1512.2 341.9L1521.5 350.0M1506.3 348.5L1509.3 359.3M1489.5 316.8L1483.0 307.9M1508.5 320.3L1518.7 321.0M1479.4 327.3L1471.9 315.7M1493.0 351.2L1486.0 359.6M1501.4 350.8L1506.7 359.9M1489.2 350.1L1491.5 359.2" opacity="0.22"/>
<path d="M1478.7 337.4L1469.6 344.6M1507.2 347.8L1508.3 361.6M1478.5 336.3L1466.3 333.3M1485.8 318.9L1480.9 310.4M1481.2 343.3L1476.0 350.9M1491.2 316.2L1493.0 306.8M1513.0 340.2L1522.8 340.7M1487.3 317.9L1483.8 311.1M1512.5 325.6L1521.3 326.5M1494.9 315.6L1500.0 306.9M1487.9 317.6L1486.6 307.7M1483.4 346.1L1469.3 346.9M1478.4 332.1L1465.7 330.6M1504.3 349.6L1516.3 356.7M1482.2 344.6L1468.5 352.2M1481.6 323.1L1474.7 315.6M1498.2 351.4L1497.7 365.3M1494.5 315.6L1490.0 308.6M1499.9 315.9L1503.9 306.3M1511.3 343.5L1519.8 352.1M1479.4 339.7L1472.1 345.7M1508.7 320.4L1512.5 311.8M1513.4 339.0L1528.0 334.0M1509.9 321.8L1523.6 307.6M1505.4 349.0L1511.7 358.8M1479.7 340.4L1468.9 348.8M1505.6 318.1L1512.8 307.7M1478.3 333.8L1470.1 330.7M1483.7 346.4L1477.6 352.0M1498.1 315.6L1495.8 302.3M1510.3 344.8L1515.7 351.5M1505.5 349.0L1510.8 358.1M1479.3 327.7L1467.0 321.5M1497.6 351.5L1498.1 359.1M1481.1 343.2L1476.2 351.4M1484.6 319.8L1479.2 307.1M1500.1 351.1L1499.6 360.2M1513.2 339.7L1519.4 344.5M1504.4 349.6L1509.9 357.7M1488.3 349.6L1482.7 355.5M1487.7 349.3L1484.5 356.2M1478.7 329.9L1467.3 336.6M1509.0 346.3L1515.3 352.3M1480.2 325.4L1474.4 319.7M1497.0 351.5L1490.5 360.9M1500.0 315.9L1505.7 308.0M1514.3 332.3L1524.6 328.8M1495.7 351.5L1501.5 362.7M1478.5 336.2L1470.3 340.2M1479.3 339.3L1466.0 350.1M1501.5 316.3L1504.8 308.3M1513.6 328.6L1522.7 325.1M1502.7 350.3L1508.7 361.0M1494.3 315.6L1496.2 301.7M1495.8 315.5L1491.1 304.8M1510.2 345.0L1517.4 349.8M1514.1 336.3L1524.6 337.3M1505.3 317.9L1512.4 307.9M1478.3 332.4L1469.0 332.5M1512.0 324.6L1522.3 323.3M1486.3 318.5L1477.5 307.2M1496.3 351.5L1495.3 363.1M1514.2 331.8L1526.9 339.1M1483.8 320.6L1480.6 312.4M1478.3 334.8L1470.3 339.2M1494.7 351.4L1491.6 358.7M1485.4 347.8L1480.7 356.1M1498.7 351.3L1500.5 366.6M1487.6 317.7L1481.3 306.1M1512.0 342.4L1523.6 346.2M1493.5 315.7L1492.2 307.0M1483.3 321.1L1476.7 315.3M1478.4 331.3L1467.4 325.9M1514.2 335.0L1526.2 337.0M1506.8 348.1L1515.6 362.8M1492.4 315.9L1488.7 307.0M1496.2 315.5L1495.5 307.5M1489.8 350.3L1492.6 361.6M1507.9 319.7L1516.6 316.5M1510.6 344.4L1518.6 349.3" opacity="0.22"/>
</g>
<g filter="url(#bl1)" fill="#000084">
<path d="M1374.14 127.84Q1325.64 226.89 1277.14 325.94L1311.26 342.66Q1359.76 243.61 1408.26 144.56Z" opacity="0.14"/>
<path d="M1377.43 129.46Q1328.93 228.51 1280.43 327.56L1307.97 341.04Q1356.47 241.99 1404.97 142.94Z" opacity="0.27"/>
<path d="M1380.72 131.07Q1332.22 230.12 1283.72 329.17L1304.68 339.43Q1353.18 240.38 1401.68 141.33Z" opacity="0.41"/>
<path d="M1384.02 132.68Q1335.52 231.73 1287.02 330.78L1301.38 337.82Q1349.88 238.77 1398.38 139.72Z" opacity="0.68"/>
<path d="M1376.39 145.54Q1427.23 243.45 1474.49 343.14L1512.11 324.46Q1461.27 226.55 1414.01 126.86Z" opacity="0.13"/>
<path d="M1379.38 144.06Q1430.22 241.97 1477.48 341.66L1509.12 325.94Q1458.28 228.03 1411.02 128.34Z" opacity="0.27"/>
<path d="M1382.36 142.57Q1433.2 240.48 1480.46 340.17L1506.14 327.43Q1455.3 229.52 1408.04 129.83Z" opacity="0.42"/>
<path d="M1385.35 141.09Q1436.19 239 1483.45 338.69L1503.15 328.91Q1452.31 231 1405.05 131.31Z" opacity="1"/>
<path d="M1290 359.7Q1393.25 352.7 1496.5 359.7L1496.5 306.7Q1393.25 313.7 1290 306.7Z" opacity="0.13"/>
<path d="M1290 357.53Q1393.25 350.53 1496.5 357.53L1496.5 308.87Q1393.25 315.87 1290 308.87Z" opacity="0.27"/>
<path d="M1290 355.37Q1393.25 348.37 1496.5 355.37L1496.5 311.03Q1393.25 318.03 1290 311.03Z" opacity="0.42"/>
<path d="M1290 353.2Q1393.25 346.2 1496.5 353.2L1496.5 313.2Q1393.25 320.2 1290 313.2Z" opacity="1"/>
<path d="M1290 336.2Q1393.25 336.2 1496.5 336.2L1496.5 330.2Q1393.25 330.2 1290 330.2Z" fill="#00008c" filter="url(#bl3)"/>
<circle cx="1393" cy="136.3" r="23" opacity="0.25"/>
<circle cx="1393" cy="136.3" r="20.7" opacity="0.45"/>
<circle cx="1393" cy="136.3" r="18.5"/>
<circle cx="1290.1" cy="334.3" r="29.5" opacity="0.25"/>
<circle cx="1290.1" cy="334.3" r="27.2" opacity="0.45"/>
<circle cx="1290.1" cy="334.3" r="25"/>
<circle cx="1496.3" cy="333.5" r="28.5" opacity="0.25"/>
<circle cx="1496.3" cy="333.5" r="26.2" opacity="0.45"/>
<circle cx="1496.3" cy="333.5" r="24"/>
</g>
<circle cx="1290.1" cy="334.4" r="24" fill="url(#hotG)"/>
<ellipse cx="1290.1" cy="334.4" rx="15.2" ry="16.8" fill="url(#hotS)"/>
<circle cx="1496.3" cy="333.4" r="14" fill="url(#hotB)"/>
<text transform="translate(1217.7 104.7) scale(0.9654 1.0000)" font-size="18.4" stroke-width="0.21">n = 417199</text>
<text transform="translate(1360.33 107.7) scale(1.0444 1.0000)" font-size="20.4" stroke-width="0.21">scout</text>
<text transform="translate(1248.52 386.9) scale(1.0547 1.0000)" font-size="20.4" stroke-width="0.21">swarm</text>
<text transform="translate(1490 385.6) scale(1.0989 1.0000)" font-size="20.4" stroke-width="0.2">loner</text>
<circle cx="1710" cy="130.1" r="30.5" fill="url(#gR2)"/>
<circle cx="1592.2" cy="335" r="30.5" fill="url(#gB2)"/>
<circle cx="1823.9" cy="336" r="30.5" fill="url(#gY2)"/>
<path d="M1598.2 296.9L1673.1 167M1673.4 166.48L1655.41 175.45M1681.4 171.2L1606.6 301.1M1606.3 301.62L1624.28 292.64M1812.1 304.3L1737.5 174.4M1737.2 173.88L1735.92 193.94M1744.9 169.8L1820.1 299.7M1820.4 300.22L1821.62 280.16M1632.8 330.7L1783 330.7M1783.6 330.7L1766.85 319.6M1783 339.9L1632.8 339.9M1632.2 339.9L1648.95 351" fill="none" stroke="#3d3d3d" stroke-width="3.6"/>
<text transform="translate(1695.26 139.9) scale(0.8553 1.0000)" font-size="28.6" stroke-width="0.37">Sc</text>
<text transform="translate(1574.07 344.3) scale(0.9208 1.0000)" font-size="28.6" stroke-width="0.34">Sw</text>
<text transform="translate(1816.19 343.3) scale(0.8332 1.0000)" font-size="28.6" stroke-width="0.38">L</text>
<text transform="translate(1599.2 258.1) rotate(-60) scale(1.0188 1) translate(-32.06 8.8)" font-size="25.6" stroke-width="0.28">0.010</text>
<text transform="translate(1682.9 202.7) rotate(-60) scale(1.0188 1) translate(-32.06 8.8)" font-size="25.6" stroke-width="0.28">0.010</text>
<text transform="translate(1775.2 188.8) rotate(60) scale(1.0186 1) translate(-30.98 8.8)" font-size="25.6" stroke-width="0.28">0.011</text>
<text transform="translate(1781.3 283) rotate(60) scale(1.0186 1) translate(-30.98 8.8)" font-size="25.6" stroke-width="0.28">0.011</text>
<text transform="translate(1627.6 322.6) scale(1.0188 1.0000)" font-size="25.6" stroke-width="0.28">0.482</text>
<text transform="translate(1718.9 369.1) scale(1.0188 1.0000)" font-size="25.6" stroke-width="0.28">0.476</text>
<path d="M1055.3 87.5V392" stroke="#555" stroke-width="1" fill="none"/>
<path d="M897.8 237.3H1211.5" stroke="#555" stroke-width="1" fill="none"/>
<path d="M1211.5 87.5V392" stroke="#000" stroke-width="1.1" fill="none"/>
<path d="M1550.6 87.5V392" stroke="#000" stroke-width="1.1" fill="none"/>
<path d="M897.8 87.5V392" stroke="#000" stroke-width="1.25" fill="none"/>
<path d="M897.17 392H1865.6" stroke="#000" stroke-width="1.6" fill="none"/>
<path d="M897.17 87.5H1865.1" stroke="#000" stroke-width="1.5" fill="none"/>
<path d="M1865.1 87.5V392" stroke="#777" stroke-width="1.9" fill="none"/>
</g>
<g id="panel-d">
<text transform="translate(-2.36 508) scale(0.9832 1.0000)" font-size="63.5" font-weight="bold" stroke-width="1.29">d</text>
<text transform="translate(452.58 538) scale(0.9630 1.0000)" font-size="27" stroke-width="0.31">A-S+</text>
<text transform="translate(30.54 566.9) scale(1.0382 1.0000)" font-size="17" stroke-width="0.18">cell = 611</text>
<circle cx="74.2" cy="592.3" r="13.2" fill="url(#gr)"/>
<circle cx="20.2" cy="685.3" r="13.2" fill="url(#gb)"/>
<circle cx="124.1" cy="685.3" r="13.2" fill="url(#gy)"/>
<polygon points="23.19,686.2 23.89,688.55 22.24,690.12 21.35,692.64 18.73,691.29 16.62,694.03 15.24,691.17 13.03,690.6 12.57,688.29 10.69,686.2 13.41,684.44 14.39,683.03 15.1,680.97 16.93,680.26 18.88,680.19 20.18,681.94 22.54,682.01 20.64,685.13" fill="#000"/>
<text transform="translate(162.74 566.9) scale(1.0391 1.0000)" font-size="17" stroke-width="0.18">cell = 142004</text>
<circle cx="227.5" cy="592.3" r="13.2" fill="url(#gr)"/>
<circle cx="173.2" cy="685.3" r="13.2" fill="url(#gb)"/>
<circle cx="277.7" cy="685.3" r="13.2" fill="url(#gy)"/>
<polyline points="172.4,689 275.7,687.3" fill="none" stroke="#000" stroke-width="1.5" stroke-linejoin="round"/>
<polygon points="177.4,686.5 176.11,687.8 176.42,689.74 174.32,689.69 173.26,691.18 171.16,693.23 170.27,690.04 169.2,689.08 167.4,688.25 169.27,686.5 168.29,685.06 167.45,682.51 169.47,681.63 171.67,682.54 173.17,682.3 175.96,680.58 175.99,683.6 177.54,684.7" fill="#000"/>
<polygon points="275.6,683.8 278.37,688.6 272.83,688.6" fill="#000"/>
<text transform="translate(10.15 727.4) scale(1.0257 1.0000)" font-size="17" stroke-width="0.18">cell = 201741</text>
<circle cx="73.8" cy="745.3" r="13.2" fill="url(#gr)"/>
<circle cx="19.3" cy="838.3" r="13.2" fill="url(#gb)"/>
<circle cx="124.4" cy="838.3" r="13.2" fill="url(#gy)"/>
<polygon points="68.1,747.9 72.2,741.8 76.2,742.8 80.3,744.9 77.2,747.3 70.1,749.3" fill="#000" stroke="#000" stroke-width="0.8" stroke-linejoin="round"/>
<text transform="translate(163.25 727.4) scale(1.0358 1.0000)" font-size="17" stroke-width="0.18">cell = 215263</text>
<circle cx="227.2" cy="745.3" r="13.2" fill="url(#gr)"/>
<circle cx="172.7" cy="838.3" r="13.2" fill="url(#gb)"/>
<circle cx="277.7" cy="838.3" r="13.2" fill="url(#gy)"/>
<polygon points="274.4,842.4 274.8,835.9 277.4,838 281.5,834.7 280.1,839.4 284.1,840.4 280.1,842.8" fill="#000" stroke="#000" stroke-width="0.8" stroke-linejoin="round"/>
<g fill="none" stroke="#000084" stroke-width="0.55" stroke-linecap="round">
<path d="M485.2 605.0L370.7 802.7M486.4 596.8L363.6 805.9M472.6 596.6L364.2 807.8M485.2 605.2L360.3 810.2M476.8 597.6L368.8 810.5M470.5 595.5L354.4 807.3M476.3 597.3L366.9 806.4M480.3 597.6L363.1 813.0M485.9 594.3L374.9 812.0M473.7 593.2L355.7 804.4M469.6 596.7L358.1 800.1M475.1 601.0L364.8 804.6M464.5 590.0L345.9 797.2M465.8 596.2L359.4 801.2M470.0 595.8L350.2 801.1M472.3 594.5L354.4 799.1M477.8 596.0L363.0 803.9M471.8 597.9L356.3 804.9M472.2 598.2L351.8 807.0M480.6 600.9L359.8 807.0M480.8 600.0L365.5 807.8M486.5 606.3L362.9 811.9M471.5 597.7L358.6 803.7M483.3 599.9L367.6 810.9M475.0 592.8L364.8 809.3M477.9 598.4L359.5 802.8M474.3 596.2L354.7 799.6M473.7 594.5L355.7 799.0M468.7 592.4L350.5 801.9M474.5 598.0L354.2 803.7M481.3 593.6L360.9 809.9M480.6 599.7L363.0 806.1M472.5 596.2L363.1 806.4M476.8 601.4L359.9 803.8M476.4 601.9L360.6 809.4M486.8 592.7L362.6 809.1M470.1 593.8L350.1 794.3M469.5 588.9L357.2 809.6M482.1 601.6L357.1 802.8M474.3 600.2L360.1 812.8M473.9 595.5L367.7 806.6M471.0 606.2L365.3 808.1M471.1 595.2L351.5 804.4M477.9 596.8L368.3 805.1M474.6 592.0L357.4 805.3M472.8 596.5L357.6 804.2M475.3 595.1L363.9 806.1M490.0 606.8L366.8 811.8M467.8 586.2L355.7 801.2M476.0 597.7L358.5 806.8M483.5 594.2L360.3 801.4M467.4 592.2L357.7 797.7M471.7 592.5L364.7 806.8M483.4 598.3L370.5 814.5M489.8 597.4L368.7 810.0M491.6 603.8L364.8 806.3M470.5 598.7L358.3 803.4M472.3 594.2L356.0 804.4M479.0 592.6L356.8 803.1M475.8 596.2L371.5 803.3" opacity="0.09" stroke-width="0.65"/>
<path d="M475.8 597.2L362.6 807.7M485.7 604.5L358.2 807.9M461.2 590.5L347.1 798.0M467.7 597.1L352.2 800.7M480.7 600.2L361.6 806.2M475.4 593.7L359.9 800.1M476.8 603.5L365.2 805.0M465.8 592.2L360.6 800.3M469.8 598.1L358.2 807.1M476.7 593.2L366.1 808.2M477.6 597.2L352.9 799.9M470.1 598.9L363.9 807.9M475.9 598.7L359.1 800.5M472.2 593.1L364.3 807.9M468.7 597.7L363.3 806.2M472.8 592.7L362.5 806.1M465.0 594.6L344.4 806.9M478.4 601.7L363.1 805.2M472.4 600.9L356.3 804.5M476.1 597.4L353.4 800.8M467.4 595.8L346.1 802.7M483.8 598.5L357.9 809.9M479.8 596.0L357.0 810.8M474.4 594.4L366.2 806.4M469.5 592.4L351.1 802.9M468.7 594.4L355.6 797.6M487.0 598.9L354.2 799.2M471.7 591.9L353.9 803.2M480.2 606.5L365.3 809.7M482.7 602.1L358.9 809.2M487.4 603.9L368.4 806.7M474.0 597.8L357.6 802.2M473.7 595.8L365.9 808.5M465.2 587.7L362.0 801.9M481.3 599.0L371.3 815.3M478.6 597.9L370.2 816.4M467.4 594.0L353.0 802.7M471.3 593.0L357.6 805.8M482.0 599.6L362.0 803.6M467.9 593.3L358.3 806.3M462.6 591.0L355.0 802.9M486.7 602.4L376.9 813.4M467.3 587.9L355.1 798.8M469.0 597.1L362.7 806.8M475.5 598.1L365.5 806.0M484.5 608.2L361.1 810.2M476.9 601.1L366.1 808.1M477.5 601.1L359.0 801.8M481.4 596.0L362.7 808.5M475.8 595.4L356.4 804.5M476.5 599.8L367.8 810.0M473.0 591.4L355.3 803.1M478.0 594.0L358.4 808.5M482.3 602.7L370.3 810.2M478.2 601.0L368.1 806.0M472.4 596.7L368.6 812.3M477.4 602.8L360.6 804.1M471.9 590.9L355.5 802.5M477.6 596.6L351.9 799.7M477.5 594.2L351.9 803.8" opacity="0.09" stroke-width="0.65"/>
<path d="M476.3 592.7L350.8 802.2M479.2 597.4L360.5 801.9M487.0 597.7L357.4 804.0M486.3 605.9L362.1 804.4M484.8 594.6L360.7 802.4M485.8 605.7L367.7 812.5M479.2 599.6L357.8 800.4M486.1 600.9L372.1 804.3M476.6 600.6L364.3 808.7M478.0 604.4L370.1 815.7M477.0 597.0L362.3 803.3M479.2 596.2L350.6 800.1M479.4 602.2L364.7 804.8M477.1 597.4L356.9 800.8M471.1 598.7L359.9 808.0M477.9 603.4L367.6 798.5M474.8 599.8L364.2 806.5M476.3 601.9L359.3 808.3M471.3 597.3L356.4 800.9M474.1 594.9L357.4 798.9M481.2 595.2L367.4 811.0M476.3 603.2L365.4 808.1M469.3 593.9L353.5 799.8M478.5 597.3L371.6 808.4M479.3 603.5L363.2 803.8M477.6 598.2L350.2 796.8M477.6 596.5L355.0 802.8M476.0 600.7L354.6 805.1M475.0 596.5L362.7 801.1M490.8 603.1L357.4 799.5M471.4 599.2L361.8 801.6M471.6 595.8L356.3 800.7M465.1 590.9L350.7 796.5M482.3 600.6L374.7 812.3M475.0 587.9L359.1 800.1M475.7 599.9L360.0 805.2M474.6 603.5L357.2 805.3M467.3 597.4L351.5 801.9M476.0 593.2L355.9 800.7M472.9 599.3L359.2 802.6M480.6 601.8L360.1 807.6M475.7 595.5L360.5 806.2M472.6 597.0L356.8 810.0M475.8 595.9L358.7 802.1M473.9 597.0L356.6 806.5M474.1 595.8L355.0 803.2M476.9 598.3L359.2 800.7M482.7 603.9L359.8 809.2M487.7 599.8L362.2 808.6M474.8 591.3L362.4 803.8M484.4 601.0L360.3 805.9M484.1 602.2L362.8 807.1M471.5 596.0L354.6 800.7M471.2 589.6L351.3 801.1M475.9 598.0L365.7 808.3M485.9 598.4L359.6 810.1M469.9 597.2L353.1 805.3M485.7 600.7L367.8 811.0M467.9 590.9L354.8 799.8M484.0 597.5L357.6 803.0" opacity="0.09" stroke-width="0.65"/>
<path d="M480.6 600.5L595.6 808.1M477.6 598.1L606.8 799.1M472.9 600.6L598.9 807.7M487.0 595.8L601.6 800.9M489.2 595.3L595.3 801.3M482.1 595.4L592.0 807.9M473.2 601.1L591.3 810.0M489.4 585.6L598.3 799.7M487.1 587.8L598.6 803.3M484.3 589.8L609.4 801.1M483.3 593.3L596.5 808.2M481.1 594.6L591.0 810.3M478.2 601.7L594.9 799.6M484.9 594.0L602.7 798.1M487.6 591.5L600.1 800.7M473.1 604.7L597.5 805.8M474.0 601.0L599.0 800.9M487.4 593.0L601.9 797.3M475.4 595.0L592.6 804.1M463.9 606.1L583.3 808.4M486.2 594.5L609.9 796.4M482.1 592.2L588.2 812.3M481.2 596.6L595.0 804.6M474.4 599.5L595.8 806.1M476.8 604.2L602.4 808.4M478.9 606.4L589.8 806.1M485.4 592.4L595.1 804.9M487.2 594.5L603.3 798.6M485.8 596.2L602.1 802.1M475.7 598.8L581.7 816.1M480.6 601.3L591.1 805.8M486.5 594.2L605.9 798.2M487.4 591.9L597.6 806.4M473.5 600.5L595.4 806.9M471.9 601.5L591.5 805.5M475.3 600.1L594.7 811.2M482.1 603.0L597.4 803.9M496.8 589.6L601.0 803.1M488.1 593.8L592.6 808.7M491.0 592.4L610.0 795.9M472.8 594.3L591.3 813.4M482.0 591.0L597.0 804.1M468.8 601.5L596.7 805.6M481.3 597.1L595.7 812.5M473.0 603.6L595.4 806.7M470.1 606.9L580.2 813.3M488.7 594.4L612.5 793.3M482.5 598.9L598.8 806.3M485.8 591.8L595.9 804.6M477.2 593.6L601.1 802.7M470.4 598.5L589.9 811.0M494.4 592.9L600.7 803.3M487.6 581.5L599.4 807.1M469.3 603.6L589.5 800.5M479.9 601.2L594.8 799.6M465.2 604.1L600.2 807.7M479.6 601.6L596.0 797.7M477.4 594.2L592.0 804.5M475.1 606.5L591.9 805.4M486.3 592.3L591.4 799.6" opacity="0.07" stroke-width="0.65"/>
<path d="M476.2 595.6L590.4 812.1M473.8 598.2L596.9 807.1M465.7 599.8L590.2 817.8M483.0 597.8L604.4 804.6M487.1 594.2L595.7 803.6M486.4 585.7L595.3 798.6M478.0 600.0L594.9 803.1M474.6 602.2L598.5 801.8M482.8 596.9L597.4 801.1M481.6 597.2L593.7 802.8M485.9 589.3L598.8 803.8M481.9 595.5L608.4 801.9M473.7 600.7L586.8 812.3M473.3 607.6L595.2 803.6M486.4 588.9L609.1 797.6M469.5 601.9L591.1 812.6M477.6 598.1L594.9 810.0M467.9 606.2L591.9 810.7M474.3 602.7L600.1 803.1M473.4 599.8L597.9 804.5M493.8 589.6L616.4 799.2M496.3 589.1L611.1 796.5M477.7 593.0L597.0 802.4M481.7 599.4L604.6 795.8M473.2 605.8L580.7 809.4M492.3 596.2L607.5 799.6M477.8 601.0L594.0 806.2M472.7 604.2L594.7 802.4M480.1 591.0L600.6 802.2M468.6 604.4L602.3 803.7M472.1 597.1L591.1 809.7M480.9 592.8L600.9 804.7M485.6 599.2L596.7 794.6M488.3 592.0L602.7 804.8M470.7 602.7L585.0 804.2M476.2 599.8L607.6 799.6M480.8 593.7L604.7 799.9M488.2 598.9L614.0 799.7M481.4 599.7L598.5 799.6M478.1 598.8L598.4 796.0M470.3 598.1L599.8 797.6M488.0 594.9L593.9 807.4M486.2 596.2L599.5 798.7M475.7 598.2L596.5 800.4M468.3 602.6L583.8 810.0M479.5 603.2L589.1 808.5M490.5 592.0L603.6 800.8M479.9 592.9L595.6 803.5M473.5 598.7L583.4 819.3M481.0 590.4L596.2 805.4M477.7 600.2L586.6 804.6M487.7 594.1L601.9 799.2M479.5 600.9L596.9 807.1M477.3 597.9L605.1 798.9M484.0 594.6L602.2 798.8M479.7 600.9L585.6 813.3M473.3 602.9L597.5 799.0M478.8 597.3L601.0 807.1M465.6 605.5L598.9 802.7M488.0 594.9L613.8 799.0" opacity="0.07" stroke-width="0.65"/>
<path d="M479.4 601.8L596.8 802.6M470.8 599.5L598.0 803.0M477.6 603.2L599.8 805.2M484.6 587.1L599.0 805.4M473.2 601.7L593.0 812.9M489.2 588.5L600.6 801.6M482.2 600.1L596.4 808.3M486.3 594.6L588.9 801.8M486.1 601.2L601.2 807.2M485.0 589.9L595.7 803.5M473.2 606.6L594.7 805.8M471.1 593.0L604.7 798.3M481.9 594.5L603.9 803.9M484.7 590.0L585.5 807.3M468.8 604.4L591.3 811.0M470.7 600.3L588.5 808.8M477.7 600.4L598.4 808.4M477.3 601.6L591.3 815.9M462.3 606.5L581.3 811.1M492.0 593.5L606.8 798.1M481.0 595.2L590.0 808.1M465.6 603.2L599.4 808.1M475.4 601.7L587.7 805.2M467.6 598.4L579.2 811.9M484.8 597.3L588.2 804.6M491.3 591.7L600.4 799.4M476.5 598.6L599.6 811.1M489.3 593.8L612.2 799.4M468.6 604.8L590.7 802.7M470.5 603.4L597.2 806.6M468.6 605.4L590.9 810.7M469.8 603.3L595.8 805.0M477.2 597.4L583.8 808.4M487.3 593.3L595.5 805.5M484.4 598.1L596.4 800.7M481.6 599.9L584.9 806.7M475.8 606.0L587.9 807.3M467.8 609.4L584.7 810.1M485.0 596.1L604.5 800.5M468.9 601.9L583.3 812.4M490.7 585.9L589.7 808.6M481.2 595.4L596.4 802.4M467.3 606.8L586.4 808.9M485.4 599.5L604.2 798.8M472.5 600.7L593.9 804.2M476.3 596.4L595.7 800.0M476.5 599.7L603.8 797.3M486.8 594.0L593.1 797.6M473.2 601.1L589.4 806.8M469.6 606.8L584.9 812.3M479.1 602.6L586.1 810.8M476.1 598.0L598.5 805.8M495.6 587.5L596.1 802.5M474.7 600.3L594.5 806.6M476.8 603.3L589.5 810.2M474.1 604.5L584.7 810.5M494.8 587.7L598.3 799.0M494.6 587.2L608.2 800.2M490.0 586.7L606.2 796.7M486.4 591.5L592.7 804.2" opacity="0.07" stroke-width="0.65"/>
<path d="M362.3 798.1L599.6 807.0M361.1 813.1L597.1 807.4M360.3 795.8L601.5 793.4M355.1 800.8L598.7 800.7M362.4 810.4L597.0 807.0M358.1 807.3L596.0 803.9M363.7 801.5L594.7 798.1M357.2 810.3L604.6 810.3M352.1 798.2L595.3 792.3M358.1 809.0L597.7 793.0M359.2 806.4L600.7 812.3M358.5 804.8L594.8 800.3M365.2 799.9L603.3 786.4M357.8 797.3L597.2 792.8M362.7 807.3L603.1 804.5M358.3 784.6L601.3 781.7M359.9 799.4L597.4 800.3M360.6 791.1L591.4 787.5M358.2 811.1L601.5 799.4M354.0 812.1L592.4 803.1M356.8 810.2L594.7 815.6M357.9 801.4L599.9 815.8M358.5 782.5L595.7 788.0M363.8 789.6L596.9 804.8M359.5 805.5L599.3 812.7M363.2 801.7L603.7 803.0M357.8 805.2L596.8 814.6M358.7 822.6L598.5 823.1M357.6 797.8L605.3 786.5M362.2 811.8L597.5 816.4M361.1 821.3L597.5 818.1M365.1 793.7L600.3 783.5M363.1 811.9L596.3 817.5M359.4 794.0L597.6 786.4M359.9 812.5L594.8 789.7M356.5 798.3L602.8 804.0M362.3 795.3L603.7 798.1M356.8 804.9L597.9 804.3M361.4 809.9L602.9 809.0M364.2 802.1L597.6 796.9M361.7 790.0L595.8 805.9M360.6 818.6L595.9 810.9M358.8 792.2L596.9 805.4M355.5 783.9L590.0 788.3M363.2 808.5L597.9 822.0" opacity="0.12"/>
<path d="M357.2 797.9L602.8 788.1M358.0 797.4L595.6 794.4M358.2 790.7L604.9 803.9M362.5 790.0L603.8 806.7M361.6 807.6L601.4 801.0M352.9 799.5L600.7 804.8M354.6 825.0L601.1 804.2M365.0 809.3L597.5 805.8M362.1 804.4L602.1 814.7M360.6 816.6L601.2 806.6M360.5 800.7L596.4 805.9M359.0 823.5L602.1 818.0M359.7 813.3L602.3 802.7M359.8 821.2L605.9 806.3M362.0 816.3L599.0 817.3M354.3 825.6L594.0 824.3M359.0 822.7L594.6 817.9M361.3 807.5L596.3 808.3M362.9 811.2L598.5 805.1M358.6 796.9L596.2 790.9M356.9 812.9L601.3 815.2M359.8 807.5L599.5 796.1M359.3 815.3L601.6 810.6M353.9 812.8L599.3 811.4M360.3 813.0L600.7 808.6M358.5 804.0L594.7 809.5M363.2 803.2L600.2 791.3M364.8 804.4L594.3 787.0M361.0 801.0L607.2 787.2M361.3 813.8L602.0 815.5M357.1 795.4L604.4 797.6M354.2 811.6L600.6 818.5M359.7 811.5L598.8 800.2M351.1 819.8L607.3 824.3M354.8 803.9L601.1 810.8M359.4 791.8L597.8 794.1M353.6 811.4L603.0 809.2M363.5 792.8L603.6 789.0M362.0 813.6L601.7 808.8M364.1 818.3L595.5 825.2M359.1 783.7L603.1 792.6M361.7 807.7L598.9 813.9M360.2 812.6L599.1 803.2M364.6 797.1L603.3 802.1M361.4 807.5L602.7 806.1" opacity="0.12"/>
<path d="M485.9 603.8L491.3 608.0M472.2 591.1L468.7 587.6M470.8 592.7L459.1 591.1M471.9 591.4L467.6 587.6M485.5 604.2L491.9 607.2M484.7 590.6L488.3 583.7M470.9 603.0L461.6 610.0M471.7 591.6L469.2 586.1M469.4 597.1L459.6 596.6M485.9 603.8L491.7 609.9M476.0 588.8L473.2 581.8M470.6 602.5L465.3 605.6M474.8 606.3L475.1 613.1M477.6 607.1L476.3 616.6M469.3 598.3L461.4 601.2M470.0 601.2L463.0 605.2M477.7 607.1L475.7 615.6M469.5 595.9L457.2 591.2M487.3 594.0L494.6 591.5M471.5 603.7L467.8 607.6M487.9 599.6L493.1 600.6M485.0 590.9L490.7 587.4M485.4 604.4L489.1 611.4M481.7 588.9L479.0 579.1M482.8 589.4L488.7 583.6M474.3 606.1L472.1 614.1M487.8 595.6L495.0 596.8M488.0 596.9L494.3 597.2M481.1 606.9L483.2 614.3M484.0 590.0L488.5 584.3M473.8 589.8L473.0 578.7M482.6 606.3L482.2 612.8M486.1 592.1L494.8 585.4M486.3 592.3L492.7 589.0M488.0 598.5L496.7 600.2M473.9 605.8L467.7 613.2M486.5 603.0L490.4 607.4M487.0 602.1L491.3 604.7M477.5 607.1L478.1 613.8M485.6 591.4L490.0 589.0M479.8 588.5L481.1 583.9M481.9 589.0L486.3 575.3M488.0 596.5L496.5 595.8M487.4 594.2L495.4 587.6M486.0 591.9L493.7 590.8M473.2 605.4L469.9 609.9M469.4 596.9L462.5 593.8M488.1 597.2L495.6 595.7M471.6 591.7L460.4 583.5M486.2 592.2L489.8 586.4M487.1 601.9L493.1 601.5M476.5 588.7L478.3 582.3M483.4 605.9L488.8 612.3M469.8 594.8L462.3 591.1M471.2 603.5L459.2 608.5M471.0 592.4L457.6 591.3M486.0 603.7L490.3 608.3M470.1 601.4L462.3 604.2M470.6 593.1L466.3 590.8M475.8 606.7L474.5 614.5M482.6 606.3L481.1 613.1M488.0 596.5L494.2 597.8M485.1 590.9L489.8 588.1M488.0 597.1L498.5 597.2M480.6 607.0L483.0 618.9M488.0 596.6L494.5 601.1M487.8 595.7L496.2 592.9M473.7 605.8L473.4 611.9M479.0 607.2L476.6 617.2M484.7 605.0L490.4 608.7M470.6 593.1L462.0 585.8M477.0 607.0L472.8 610.5M479.0 588.4L477.2 578.9M470.6 593.1L464.4 590.8M478.4 607.2L481.5 615.5M469.6 595.6L464.6 592.1M482.6 589.3L487.9 586.2M485.2 604.5L488.6 609.6M477.3 588.5L477.3 575.5M473.2 605.4L464.8 611.5" opacity="0.22"/>
<path d="M487.5 600.9L494.3 601.2M469.6 595.5L463.7 592.7M472.6 590.7L469.3 586.8M485.6 591.4L487.3 585.1M469.6 595.4L461.9 593.7M484.1 605.5L489.7 608.8M470.5 593.3L465.7 592.1M471.0 592.4L466.2 587.3M474.5 606.2L472.5 613.2M469.3 597.1L462.4 598.3M471.8 604.2L466.5 607.3M474.0 589.7L469.9 585.7M480.6 607.0L482.2 612.0M483.3 606.0L486.5 611.0M469.6 599.9L461.7 602.1M487.4 601.3L491.7 605.9M469.4 596.3L463.6 593.2M470.0 601.2L464.5 604.8M480.3 588.6L485.1 583.9M477.9 607.1L478.8 612.1M486.4 603.1L491.4 607.5M476.7 588.6L476.1 581.8M473.6 589.9L469.5 585.0M473.2 590.2L471.2 582.8M477.7 588.5L473.9 582.2M485.7 591.5L492.2 586.7M475.3 606.5L474.6 613.2M469.3 597.3L462.8 598.6M488.0 598.8L494.7 598.4M476.8 607.0L476.0 612.3M474.3 606.1L466.3 613.5M487.4 594.3L492.1 592.7M485.3 591.1L489.4 588.1M478.2 607.2L477.7 612.5M479.3 588.4L482.7 579.8M479.4 607.1L476.9 615.5M488.0 596.5L493.2 599.8M476.4 606.9L474.3 613.4M485.0 590.9L488.8 586.5M486.7 602.7L492.2 607.0M483.8 605.7L485.3 610.2M475.2 589.1L476.0 581.4M487.7 595.3L492.1 593.5M470.1 601.6L464.6 607.1M483.6 605.8L488.7 609.2M472.6 590.6L468.4 587.3M479.7 588.5L480.4 579.8M470.3 593.7L465.5 591.6M484.4 590.3L487.0 584.8M478.8 588.4L483.3 581.3M487.7 600.4L494.7 603.9M488.0 596.4L492.9 595.1M487.2 594.0L493.5 590.1M469.5 595.8L461.2 595.9M472.0 604.3L466.9 607.6M477.1 607.0L476.7 613.9M487.4 594.3L491.9 591.0M483.7 589.9L487.4 580.9M484.7 590.6L487.6 586.5M472.0 591.3L465.7 586.3M487.3 601.4L492.8 601.5M482.0 589.0L484.4 582.8M487.4 594.3L493.3 591.4M483.8 605.7L487.5 613.5M474.4 606.1L471.2 610.5M469.4 599.1L464.3 597.4M473.4 590.1L470.7 582.5M481.4 606.8L483.7 611.9M469.6 600.1L464.4 598.9M487.7 600.6L495.9 603.4M477.2 607.1L477.6 611.8M470.0 601.3L462.6 602.5M485.2 604.5L487.7 611.2M478.5 607.2L479.5 612.1M483.5 589.7L485.8 584.1M477.2 588.5L476.3 580.4M486.9 602.3L496.5 606.7M478.8 588.4L479.3 575.0M478.7 607.2L475.5 611.9M487.9 599.4L493.8 599.6" opacity="0.22"/>
<path d="M377.1 812.8L390.3 818.2M370.3 790.1L375.9 783.9M343.4 795.2L335.6 790.2M342.4 796.8L332.9 792.4M365.8 787.8L373.5 777.5M349.0 789.7L340.2 778.8M362.5 787.0L358.5 777.3M342.5 815.0L329.6 818.3M370.1 790.0L376.6 778.7M374.3 794.0L378.8 784.7M340.6 802.0L327.6 804.4M341.6 813.0L332.4 812.2M368.0 822.8L375.4 828.6M364.5 824.2L367.1 834.1M340.5 809.2L331.2 812.4M377.9 810.4L386.0 811.7M340.2 806.5L328.0 805.9M342.2 814.4L331.8 817.4M351.8 823.4L351.0 833.5M377.8 810.5L386.1 817.6M372.6 792.1L378.0 786.3M376.6 797.6L386.5 794.3M363.4 824.5L361.5 832.8M376.7 797.8L387.5 794.5M372.7 792.1L378.5 779.3M368.6 789.1L373.9 780.2M378.1 809.1L387.7 806.0M378.3 807.5L390.6 804.4M375.2 795.2L383.8 788.5M368.3 822.7L370.8 834.2M373.4 818.7L383.2 820.8M376.8 813.6L384.3 818.4M344.9 793.3L335.8 786.3M358.4 824.9L355.3 839.4M359.3 824.9L360.7 836.6M360.9 786.7L363.3 775.0M375.7 815.7L384.4 820.2M350.6 822.8L340.6 832.7M354.5 787.3L353.4 778.1M348.4 821.5L347.4 831.1M345.8 792.3L335.1 784.2M350.2 822.6L343.4 828.3M340.2 806.4L330.9 802.9M350.9 788.6L346.6 777.9M342.5 796.8L334.3 790.2M357.4 824.8L355.5 834.7M344.9 818.4L331.9 828.4M345.7 792.4L333.6 791.3M342.0 814.0L330.9 822.4M348.4 790.1L344.7 780.1M369.3 822.1L371.0 832.1M340.5 802.4L327.7 802.0M346.8 820.2L342.1 827.0M366.0 823.7L364.7 833.8M368.9 822.3L373.5 833.1M356.7 824.7L351.1 832.5M355.9 824.6L355.8 833.8M352.9 823.8L345.4 829.0M353.0 823.9L349.7 834.8M371.8 820.2L380.2 825.8M350.8 823.0L354.1 835.1M368.7 789.2L374.3 783.0M373.5 818.6L383.9 821.7M349.2 822.0L339.3 827.2M371.3 790.9L379.4 783.7M345.0 793.1L333.6 789.0M374.3 794.0L382.6 787.5M354.7 787.2L355.0 778.9M345.6 792.4L338.9 784.9M340.9 800.6L330.7 795.6M349.2 822.0L341.1 832.0M343.2 795.4L331.0 794.1M343.8 794.6L334.9 785.5M343.0 795.7L333.2 788.0M341.6 813.0L327.8 817.6M369.0 822.3L372.0 830.1M376.2 796.8L389.2 793.8M351.6 823.3L349.2 835.0M378.3 803.3L386.8 802.3M340.5 809.2L332.8 812.2" opacity="0.22"/>
<path d="M355.5 787.1L349.6 776.9M373.8 793.3L383.4 790.1M377.8 810.8L384.9 814.5M351.3 823.2L340.7 833.1M340.2 805.0L332.0 801.5M378.4 804.3L393.1 806.2M374.1 793.6L379.4 784.7M360.2 786.7L357.2 778.1M341.6 812.9L334.8 817.7M373.1 792.6L383.8 788.0M341.3 812.3L328.6 813.4M368.0 822.8L372.4 830.6M365.1 824.0L370.0 831.2M359.5 786.7L364.6 776.5M355.7 824.6L353.8 834.8M372.8 792.3L378.7 784.4M377.4 799.7L385.1 794.4M372.4 819.7L381.5 825.9M370.0 821.7L370.1 832.8M340.4 802.9L330.2 798.9M374.5 817.4L379.0 831.6M344.3 817.7L337.1 826.0M342.0 813.9L333.0 816.2M349.8 789.2L345.6 782.3M369.5 822.0L378.2 826.9M374.8 794.6L388.5 789.9M369.1 789.4L374.7 781.9M371.0 820.9L378.1 829.5M378.3 803.3L393.1 805.0M378.3 803.7L387.3 799.3M362.7 824.6L363.6 835.4M372.2 819.9L382.1 820.3M344.9 818.4L339.6 824.4M350.5 822.8L346.0 833.6M342.5 815.0L333.9 818.3M340.4 808.8L331.9 810.7M358.3 786.7L356.5 778.3M353.9 787.4L351.8 779.3M362.7 787.0L358.9 777.9M364.5 824.2L361.5 835.4M343.0 795.8L332.4 789.4M361.3 824.8L359.5 837.6M351.0 788.6L345.6 781.0M342.9 796.0L331.7 788.4M349.5 789.4L345.4 782.4M340.2 805.1L330.0 801.3M372.0 791.5L379.6 783.7M340.5 809.2L328.2 810.6M347.6 790.6L340.7 785.6M366.7 823.4L365.5 836.7M361.4 786.8L361.4 774.9M349.3 822.1L344.0 829.7M375.1 816.5L388.1 818.2M341.6 813.1L333.5 819.9M375.6 795.7L384.0 789.5M340.4 809.0L328.5 806.9M354.5 824.3L351.1 833.5M340.4 808.9L327.7 813.0M345.2 792.9L338.7 782.3M360.9 786.7L361.9 778.7M340.2 805.1L323.7 810.7M341.0 800.1L327.6 797.2M374.1 793.6L381.9 787.3M371.3 820.7L376.4 833.9M362.1 824.7L365.1 836.8M372.2 791.7L380.7 785.3M377.5 800.0L388.9 801.5M354.3 824.3L349.9 838.4M377.9 801.2L387.4 802.6M358.2 824.9L355.9 841.5M344.6 793.5L336.7 790.4M361.4 786.8L371.6 773.5M377.6 800.1L388.2 797.1M343.8 794.6L335.1 792.9M346.7 791.4L339.7 786.2M376.5 797.4L385.8 793.2M349.5 789.4L347.6 779.4M348.8 821.8L343.7 832.0M366.0 823.7L366.5 833.7M352.3 788.0L342.8 776.2" opacity="0.22"/>
<path d="M594.2 822.8L592.8 832.1M605.0 788.0L608.9 775.9M581.3 808.0L572.6 806.1M603.8 787.6L605.1 776.5M581.4 802.0L571.6 801.3M616.8 800.1L625.5 793.2M614.6 815.3L620.2 821.0M581.1 806.1L570.9 804.6M585.2 793.7L579.6 787.4M608.4 821.1L611.8 832.9M600.4 787.1L600.3 778.5M607.4 789.0L613.2 782.9M596.4 823.3L601.7 836.7M581.2 803.6L568.4 801.5M617.4 807.3L625.6 812.2M617.0 801.2L625.3 798.7M605.1 822.6L608.7 830.0M616.8 800.3L625.0 796.5M588.4 790.7L583.9 781.0M581.1 806.3L571.4 806.4M584.8 794.3L574.5 789.4M586.9 818.6L583.9 830.1M617.3 808.4L626.4 807.7M583.5 796.3L576.5 789.9M592.2 788.5L585.9 780.5M581.1 803.9L570.6 792.7M612.4 792.6L620.5 790.0M598.0 787.1L594.8 775.6M617.2 808.7L629.8 818.3M583.3 796.6L577.3 791.0M601.4 823.4L603.6 831.8M603.8 787.6L602.6 772.9M582.7 797.7L575.1 790.8M611.4 818.9L618.5 826.4M590.8 789.2L580.7 785.7M617.0 809.7L629.4 812.0M583.9 795.5L577.0 787.7M617.5 804.6L629.2 811.8M612.2 818.2L621.4 822.8M585.9 817.6L578.2 820.4M617.5 806.1L626.2 807.5M608.0 821.3L612.9 834.5M605.2 788.1L610.2 781.4M603.9 822.9L602.4 836.0M610.3 819.8L617.6 825.1M616.6 811.2L623.9 817.4M588.0 819.6L578.3 833.9M583.2 796.8L574.9 790.0M616.8 810.3L628.8 811.8M583.3 814.1L566.4 818.6M589.3 820.5L581.6 826.9M610.0 790.5L616.2 781.2M583.5 814.4L571.9 817.8M589.6 789.9L583.8 784.7M616.5 799.2L624.5 795.5M591.0 789.1L595.0 779.5M594.5 787.7L587.0 781.8M583.0 813.5L575.8 817.1M588.7 820.1L586.4 827.9M590.5 789.3L585.4 775.0M581.6 801.1L573.3 799.5M581.2 803.0L571.8 804.7M608.7 820.9L614.4 831.4M594.2 822.8L589.3 832.5M581.1 804.4L571.5 808.3M597.6 787.2L596.5 776.9M617.2 809.0L626.5 811.9M608.7 820.9L615.6 827.5M596.5 787.3L596.1 778.5M607.9 821.4L616.1 825.7M583.8 795.7L579.3 788.2M586.8 818.5L576.9 825.0M604.8 822.7L612.3 831.3M603.0 823.1L600.3 831.7M597.9 823.5L594.3 831.2M587.8 791.1L582.0 780.7M581.9 800.0L573.2 797.1M596.2 787.3L597.1 779.0M598.5 787.1L601.5 774.5M584.5 794.7L579.2 787.0" opacity="0.22"/>
<path d="M616.1 798.2L624.0 794.2M609.0 789.8L605.3 778.6M616.7 799.8L633.7 802.8M581.5 801.4L575.2 792.4M581.1 805.6L569.8 805.1M612.5 817.9L618.6 823.7M613.1 793.4L620.5 789.9M581.9 799.8L572.6 802.9M604.8 822.7L604.7 834.5M582.9 813.3L570.7 820.2M581.2 807.0L572.8 804.8M607.9 789.3L608.1 780.8M598.6 787.1L594.6 776.5M617.5 806.3L626.3 802.6M604.2 822.9L609.4 833.9M612.7 792.9L619.6 787.3M617.5 804.7L629.6 802.8M597.2 823.4L597.8 831.1M586.2 817.9L580.0 823.0M617.5 804.7L630.7 802.2M584.8 794.2L574.1 789.0M588.6 820.1L579.9 834.6M581.1 806.8L572.8 808.9M592.5 788.4L590.2 778.0M611.2 819.1L617.2 826.1M616.5 799.4L624.3 794.8M596.1 787.4L598.1 776.1M592.0 788.6L587.3 781.3M581.5 801.4L567.4 803.3M590.8 789.2L594.3 778.9M581.4 808.6L573.4 816.7M604.3 787.8L605.6 776.1M614.6 815.3L623.3 815.2M585.4 793.5L572.3 781.1M583.8 815.0L574.6 812.7M584.5 794.7L579.1 788.9M611.5 818.9L617.3 827.0M610.5 790.9L623.5 782.9M584.8 794.3L577.8 789.8M582.9 813.3L571.1 821.2M612.3 818.1L616.9 828.4M581.3 808.1L573.2 805.6M588.0 819.6L582.2 828.3M581.1 804.9L568.0 803.9M599.8 787.1L605.3 777.2M614.0 794.6L620.5 785.8M611.4 818.9L616.4 827.1M581.3 802.6L566.8 810.0M582.2 811.6L571.9 813.4M582.9 813.2L574.5 817.3M586.7 792.2L579.1 785.2M612.6 817.8L624.5 821.9M594.1 787.8L597.6 776.9M610.3 790.7L617.5 783.7M605.1 788.0L604.3 778.5M613.2 793.5L620.8 786.0M581.5 801.6L573.9 800.7M606.2 788.4L605.3 774.3M591.1 789.0L585.1 777.8M617.5 805.2L630.7 803.2M607.9 789.3L615.4 780.0M581.1 804.6L573.5 807.7M591.5 788.8L584.3 780.8M608.6 820.9L613.1 832.5M582.6 797.9L578.0 790.6M617.3 808.0L624.7 813.8M581.4 802.1L571.4 806.0M590.1 789.6L583.3 779.9M588.2 819.8L578.5 826.3M600.7 823.5L596.5 834.7M581.4 801.7L565.0 802.2M617.1 801.5L625.3 794.8M592.2 822.1L587.2 830.1M612.2 818.2L619.6 824.3M610.1 790.6L617.0 781.8M581.1 806.5L571.9 805.9M581.1 804.0L571.5 802.4M581.1 806.3L569.7 799.2M607.1 788.8L611.2 781.5M606.8 821.9L606.2 833.2" opacity="0.22"/>
</g>
<g filter="url(#bl1)" fill="#000084">
<path d="M464.76 591.24Q406.56 695.04 348.36 798.84L371.04 811.56Q429.24 707.76 487.44 603.96Z" opacity="0.02"/>
<path d="M466.8 592.38Q408.6 696.18 350.4 799.98L369 810.42Q427.2 706.62 485.4 602.82Z" opacity="0.04"/>
<path d="M468.83 593.52Q410.63 697.32 352.43 801.12L366.97 809.28Q425.17 705.48 483.37 601.68Z" opacity="0.06"/>
<path d="M470.87 594.67Q412.67 698.47 354.47 802.27L364.93 808.13Q423.13 704.33 481.33 600.53Z" opacity="0.1"/>
<path d="M466.21 604.93Q524.31 708.73 582.41 812.53L608.59 797.87Q550.49 694.07 492.39 590.27Z" opacity="0.01"/>
<path d="M468.68 603.54Q526.78 707.34 584.88 811.14L606.12 799.26Q548.02 695.46 489.92 591.66Z" opacity="0.03"/>
<path d="M471.16 602.16Q529.26 705.96 587.36 809.76L603.64 800.64Q545.54 696.84 487.44 593.04Z" opacity="0.04"/>
<path d="M473.63 600.77Q531.73 704.57 589.83 808.37L601.17 802.03Q543.07 698.23 484.97 594.43Z" opacity="0.07"/>
<path d="M359.3 829.9Q479.3 820.9 599.3 829.9L599.3 780.9Q479.3 789.9 359.3 780.9Z" opacity="0.13"/>
<path d="M359.3 827.4Q479.3 818.4 599.3 827.4L599.3 783.4Q479.3 792.4 359.3 783.4Z" opacity="0.27"/>
<path d="M359.3 824.9Q479.3 815.9 599.3 824.9L599.3 785.9Q479.3 794.9 359.3 785.9Z" opacity="0.42"/>
<path d="M359.3 822.4Q479.3 813.4 599.3 822.4L599.3 788.4Q479.3 797.4 359.3 788.4Z" opacity="1"/>
<circle cx="478.7" cy="597.8" r="17" opacity="0.25"/>
<circle cx="478.7" cy="597.8" r="14.7" opacity="0.45"/>
<circle cx="478.7" cy="597.8" r="12.5"/>
<circle cx="359.3" cy="805.8" r="30" opacity="0.25"/>
<circle cx="359.3" cy="805.8" r="27.7" opacity="0.45"/>
<circle cx="359.3" cy="805.8" r="25.5"/>
<circle cx="599.3" cy="805.3" r="28.8" opacity="0.25"/>
<circle cx="599.3" cy="805.3" r="26.5" opacity="0.45"/>
<circle cx="599.3" cy="805.3" r="24.3"/>
</g>
<circle cx="359.3" cy="806" r="24" fill="url(#hotG)"/>
<ellipse cx="359.3" cy="806" rx="15.2" ry="16.8" fill="url(#hotS)"/>
<circle cx="599.5" cy="805.4" r="14" fill="url(#hotB2)"/>
<text transform="translate(306.6 568.3) scale(0.9684 1.0000)" font-size="18.4" stroke-width="0.21">n = 79411</text>
<text transform="translate(455.73 575.8) scale(1.0465 1.0000)" font-size="20.4" stroke-width="0.21">scout</text>
<text transform="translate(326.22 855.3) scale(1.0547 1.0000)" font-size="20.4" stroke-width="0.21">swarm</text>
<text transform="translate(571.1 855.3) scale(1.0967 1.0000)" font-size="20.4" stroke-width="0.2">loner</text>
<circle cx="820.5" cy="616.5" r="27.76" fill="url(#gR2)"/>
<circle cx="710.9" cy="802.16" r="27.76" fill="url(#gB2)"/>
<circle cx="921.75" cy="803.07" r="27.76" fill="url(#gY2)"/>
<path d="M716.36 767.49L784.52 649.28M784.79 648.81L768.43 656.97M792.07 653.1L724.01 771.31M723.73 771.78L740.1 763.61M911.01 774.22L843.12 656.01M842.85 655.54L841.68 673.79M849.86 651.83L918.29 770.04M918.56 770.51L919.67 752.25M747.85 798.25L884.53 798.25M885.08 798.25L869.83 788.14M884.53 806.62L747.85 806.62M747.3 806.62L762.55 816.72" fill="none" stroke="#3d3d3d" stroke-width="3.28"/>
<text transform="translate(804.68 624.62) scale(0.8553 1.0000)" font-size="26.03" stroke-width="0.33">Sc</text>
<text transform="translate(694.41 810.62) scale(0.9208 1.0000)" font-size="26.03" stroke-width="0.31">Sw</text>
<text transform="translate(914.73 809.71) scale(0.8332 1.0000)" font-size="26.03" stroke-width="0.34">L</text>
<text transform="translate(717.27 732.18) rotate(-60) scale(1.0188 1) translate(-29.12 8.01)" font-size="23.3" stroke-width="0.26">0.008</text>
<text transform="translate(793.44 681.77) rotate(-60) scale(1.0188 1) translate(-29.18 8.01)" font-size="23.3" stroke-width="0.26">0.010</text>
<text transform="translate(877.43 669.12) rotate(60) scale(1.0188 1) translate(-29.29 8.01)" font-size="23.3" stroke-width="0.26">0.004</text>
<text transform="translate(882.98 754.84) rotate(60) scale(1.0188 1) translate(-29.29 8.01)" font-size="23.3" stroke-width="0.26">0.004</text>
<text transform="translate(743.11 790.88) scale(1.0188 1.0000)" font-size="23.3" stroke-width="0.25">0.492</text>
<text transform="translate(826.38 833.19) scale(1.0188 1.0000)" font-size="23.3" stroke-width="0.25">0.482</text>
<path d="M146.4 548.2V863.8" stroke="#555" stroke-width="1" fill="none"/>
<path d="M5.4 707.5H302.6" stroke="#555" stroke-width="1" fill="none"/>
<path d="M302.6 548.2V863.8" stroke="#555" stroke-width="1.1" fill="none"/>
<path d="M659.3 548.2V863.8" stroke="#000" stroke-width="1.1" fill="none"/>
<path d="M5.4 548.2V863.8" stroke="#000" stroke-width="1.25" fill="none"/>
<path d="M4.78 863.8H970.2" stroke="#000" stroke-width="2.1" fill="none"/>
<path d="M4.78 548.2H969.7" stroke="#000" stroke-width="2.1" fill="none"/>
<path d="M969.7 548.2V863.8" stroke="#000" stroke-width="1.3" fill="none"/>
</g>
<g id="panel-e">
<text transform="translate(1009.4 508.3) scale(0.9965 1.0000)" font-size="63.5" font-weight="bold" stroke-width="1.27">e</text>
<text transform="translate(1473.89 538) scale(0.9340 1.0000)" font-size="27" stroke-width="0.32">A+S-</text>
<text transform="translate(1069.24 563.4) scale(1.0403 1.0000)" font-size="17" stroke-width="0.18">cell = 49</text>
<circle cx="1107.5" cy="593.4" r="13.2" fill="url(#gr)"/>
<circle cx="1054.1" cy="686.1" r="13.2" fill="url(#gb)"/>
<circle cx="1157.1" cy="686.1" r="13.2" fill="url(#gy)"/>
<polyline points="1107.2,596 1159.6,688 1052.8,688.7" fill="none" stroke="#000" stroke-width="1.5" stroke-linejoin="round"/>
<polyline points="1053,687 1053,690.2" fill="none" stroke="#000" stroke-width="1.5" stroke-linejoin="round"/>
<polygon points="1102.43,594.6 1107.97,594.6 1105.2,599.4" fill="#000"/>
<polygon points="1161,686.3 1155.3,689.59 1155.3,683.01" fill="#000"/>
<text transform="translate(1220.25 563.4) scale(1.0324 1.0000)" font-size="17" stroke-width="0.18">cell = 65</text>
<circle cx="1258.4" cy="593.4" r="13.2" fill="url(#gr)"/>
<circle cx="1204.7" cy="686.1" r="13.2" fill="url(#gb)"/>
<circle cx="1308.1" cy="686.1" r="13.2" fill="url(#gy)"/>
<polyline points="1203,686.6 1308.6,685.2" fill="none" stroke="#000" stroke-width="1.5" stroke-linejoin="round"/>
<polygon points="1207.8,686.4 1202.4,689.52 1202.4,683.28" fill="#000"/>
<polygon points="1303.4,685.6 1308.2,682.83 1308.2,688.37" fill="#000"/>
<text transform="translate(1070.24 726.5) scale(1.0385 1.0000)" font-size="17" stroke-width="0.18">cell = 52</text>
<circle cx="1107.3" cy="745" r="13.2" fill="url(#gr)"/>
<circle cx="1053.9" cy="836.5" r="13.2" fill="url(#gb)"/>
<circle cx="1157" cy="836.5" r="13.2" fill="url(#gy)"/>
<polygon points="1110.56,745.2 1110.62,746.82 1109.11,747.82 1107.91,748.75 1106.39,749.2 1105.07,747.85 1103.11,749.03 1102.89,747.22 1100.87,746.73 1099.02,745.2 1101.37,743.83 1101,741.77 1103.25,741.59 1104.41,739.22 1106.62,740.07 1107.6,742.12 1110.25,741.73 1111.67,743.24" fill="#000"/>
<text transform="translate(1220.84 732.2) scale(1.0369 1.0000)" font-size="17" stroke-width="0.18">cell = 97</text>
<circle cx="1259.3" cy="745" r="13.2" fill="url(#gr)"/>
<circle cx="1204.7" cy="836.5" r="13.2" fill="url(#gb)"/>
<circle cx="1307.6" cy="836.5" r="13.2" fill="url(#gy)"/>
<polyline points="1254.4,745.9 1308.4,837.3" fill="none" stroke="#000" stroke-width="1.5" stroke-linejoin="round"/>
<polygon points="1257.63,746 1256.25,746.56 1256.25,747.28 1256.48,749.01 1255,748.09 1254.3,747.56 1253.23,748.19 1252.88,747.33 1251.81,746.94 1252.63,746 1251.75,745.04 1252.93,744.71 1253.25,743.85 1253.97,742.72 1255.08,743.48 1256.4,743.13 1256.74,744.34 1256.05,745.51" fill="#000"/>
<polygon points="1311.98,837.5 1312.3,838.78 1311.21,839.71 1310.41,840.91 1308.8,841.21 1307.53,839.66 1306.19,840.07 1303.61,840.52 1304.22,838.62 1304.65,837.5 1303.13,836.05 1304.72,835.25 1305.53,834 1307.25,834.03 1308.8,833.78 1309.51,835.36 1311.53,835.07 1313.5,835.86" fill="#000"/>
<g fill="none" stroke="#000084" stroke-width="0.55" stroke-linecap="round">
<path d="M1495.1 596.7L1373.2 801.3M1512.1 598.7L1384.5 812.3M1499.0 598.5L1392.7 805.6M1504.2 600.1L1377.8 805.0M1510.3 604.5L1383.6 802.3M1498.3 599.3L1391.5 807.6M1507.4 598.8L1386.9 805.6M1507.1 595.5L1384.4 803.8M1508.2 607.4L1384.7 804.4M1517.6 607.7L1390.9 806.3M1509.7 598.5L1386.7 803.2M1503.3 603.2L1381.5 803.2M1504.7 597.5L1374.3 802.5M1497.1 597.0L1382.3 804.3M1502.4 599.9L1392.6 804.8M1514.7 610.2L1391.6 809.7M1506.4 599.0L1393.2 811.6M1506.1 602.1L1387.4 807.9M1495.0 594.8L1386.5 809.1M1500.1 597.6L1372.2 799.5M1488.8 585.7L1366.1 795.9M1499.6 598.0L1378.8 805.5M1489.5 599.3L1385.8 806.4M1494.6 592.4L1373.4 806.0M1507.8 609.3L1386.0 804.5M1503.2 606.4L1379.3 802.5M1505.4 603.8L1385.2 805.2M1491.7 593.3L1384.3 799.3M1491.1 603.4L1381.9 802.4M1494.7 594.3L1373.5 795.8M1484.5 586.4L1366.5 794.0M1522.1 607.7L1397.5 813.3M1499.1 594.9L1389.2 812.3M1483.2 582.2L1372.5 801.5M1489.2 595.7L1381.2 802.3M1496.2 596.9L1369.0 799.1M1504.7 604.0L1371.7 803.0M1491.1 590.4L1367.8 798.6M1479.9 587.9L1377.3 795.7M1508.4 604.7L1393.3 809.7M1502.0 603.5L1378.1 798.9M1506.0 598.5L1386.6 803.9M1502.1 601.4L1395.5 817.5M1500.1 600.4L1377.0 805.1M1487.7 596.9L1373.4 803.0" opacity="0.12"/>
<path d="M1515.0 611.3L1397.9 813.0M1508.6 603.0L1379.1 807.2M1488.6 593.7L1389.8 804.7M1495.2 595.7L1384.4 811.5M1502.9 603.7L1382.9 804.8M1490.6 597.1L1368.8 803.8M1510.2 607.5L1385.1 806.2M1491.0 595.1L1385.4 803.7M1503.4 605.4L1382.7 802.5M1486.2 589.2L1381.0 795.4M1506.2 606.5L1385.7 803.5M1495.0 598.7L1372.0 797.6M1511.5 609.0L1385.5 801.1M1506.4 601.2L1379.3 803.7M1504.6 602.8L1373.7 806.0M1490.3 597.4L1372.1 796.9M1485.3 590.1L1366.2 796.4M1499.4 599.4L1372.0 800.7M1511.1 600.1L1382.0 806.6M1501.5 599.0L1385.1 805.4M1497.0 594.6L1379.1 804.6M1479.5 588.7L1377.3 800.4M1510.0 608.2L1397.4 805.7M1497.4 602.1L1382.5 804.2M1518.8 615.2L1396.0 813.4M1503.3 603.6L1382.3 804.6M1512.2 607.4L1392.7 807.2M1500.6 600.7L1378.9 797.4M1501.2 600.0L1373.4 802.5M1489.8 595.0L1378.5 806.1M1503.0 601.5L1391.5 808.7M1495.5 597.1L1386.2 804.2M1504.2 603.3L1377.3 797.7M1497.4 594.3L1388.9 805.5M1490.4 596.6L1384.6 801.7M1500.6 601.3L1387.4 807.4M1494.2 595.4L1384.3 803.0M1510.8 603.4L1386.2 810.2M1492.5 597.6L1377.8 804.1M1493.3 598.5L1381.2 800.9M1498.3 603.7L1382.1 807.0M1513.2 608.2L1387.7 805.1M1504.2 601.9L1401.3 815.3M1495.9 598.2L1397.0 812.8M1509.0 609.0L1391.8 811.6" opacity="0.12"/>
<path d="M1506.0 601.2L1609.3 805.8M1486.9 605.2L1613.3 806.9M1486.7 609.4L1611.1 806.6M1512.9 592.9L1640.6 791.8M1506.6 597.4L1622.0 805.0M1519.2 589.0L1620.0 797.4M1508.3 590.4L1610.3 803.8M1507.0 601.7L1627.2 800.5M1507.6 597.8L1625.7 800.6M1502.6 592.8L1623.4 805.9M1504.4 603.0L1614.0 796.6M1496.8 594.9L1618.1 802.6M1487.9 605.9L1604.0 814.7M1513.1 593.2L1615.2 811.2M1495.2 602.2L1603.1 812.1M1500.2 599.5L1609.1 812.4M1508.3 598.8L1611.9 806.7M1512.3 595.9L1622.1 804.0M1513.4 600.4L1623.3 804.6M1503.1 598.8L1614.5 808.0M1498.8 603.3L1617.4 800.0M1515.8 595.3L1628.9 796.5M1508.9 589.3L1630.5 802.3M1514.5 594.8L1605.6 811.8M1497.2 600.9L1620.0 809.5M1495.3 606.5L1627.9 797.1M1516.3 587.5L1624.0 801.5M1505.3 599.9L1619.1 804.7M1500.7 604.5L1617.0 808.5M1508.5 596.4L1627.3 796.3M1494.5 603.9L1614.7 805.8M1506.7 596.5L1624.9 798.4M1500.3 604.3L1616.3 806.4M1487.3 606.9L1610.2 812.8M1507.4 597.7L1618.6 798.9M1509.3 601.8L1628.2 797.8M1496.5 603.4L1630.5 796.0M1483.5 606.8L1603.0 815.2M1505.7 602.4L1600.6 813.2M1503.7 598.1L1621.1 792.4M1509.7 595.1L1609.6 803.6M1514.2 595.0L1632.5 791.5M1509.3 594.3L1637.6 798.3M1493.7 602.0L1615.3 810.8M1504.3 597.4L1624.4 799.6" opacity="0.12"/>
<path d="M1481.3 608.4L1594.0 813.6M1496.8 605.1L1611.0 810.2M1482.1 613.0L1615.8 808.7M1511.3 592.9L1616.7 803.4M1497.2 601.3L1618.0 797.2M1511.2 591.1L1616.8 805.5M1498.2 597.2L1615.9 809.7M1504.7 597.4L1621.5 804.1M1523.8 586.0L1631.9 797.6M1510.3 592.9L1628.3 804.5M1507.2 596.7L1625.0 804.3M1506.8 601.9L1632.0 796.6M1487.0 606.0L1610.1 803.3M1509.1 595.7L1631.2 794.6M1497.5 598.0L1630.3 793.5M1504.9 594.5L1620.0 810.7M1484.4 602.4L1605.7 812.7M1499.1 607.7L1615.1 802.8M1491.7 605.7L1606.4 808.4M1500.3 599.0L1599.8 817.6M1499.8 599.2L1607.6 809.7M1496.2 606.3L1611.3 809.4M1517.8 593.4L1632.6 799.5M1492.8 600.3L1615.7 805.4M1503.6 597.4L1618.3 805.3M1510.0 595.7L1624.2 803.1M1498.0 604.1L1613.8 807.1M1500.1 592.6L1616.8 804.5M1501.3 595.6L1611.5 810.4M1517.1 589.1L1630.6 800.2M1476.0 609.0L1613.9 807.0M1514.5 593.1L1610.3 807.4M1515.2 594.0L1628.0 798.5M1509.6 596.4L1617.1 801.3M1504.6 601.9L1622.9 806.2M1507.6 598.9L1605.8 818.3M1478.7 613.8L1615.2 802.9M1503.4 600.8L1625.6 797.9M1514.2 590.4L1644.0 791.9M1506.2 594.8L1624.3 800.1M1500.4 605.7L1620.8 798.6M1478.7 613.7L1608.2 803.5M1512.6 589.0L1623.3 807.3M1513.2 594.6L1611.5 805.0M1526.0 588.3L1626.3 800.5" opacity="0.12"/>
<path d="M1388.0 803.1L1620.1 804.1M1384.4 807.1L1621.8 825.8M1385.6 831.2L1619.9 817.1M1384.2 799.4L1617.8 819.6M1387.0 777.6L1617.2 796.2M1387.7 798.5L1616.8 786.5M1383.1 806.1L1617.5 796.0M1387.5 791.8L1623.3 814.9M1381.6 817.9L1622.5 822.1M1383.1 809.9L1615.6 811.4M1384.1 794.5L1621.7 797.8M1385.0 824.7L1619.0 820.0M1386.2 781.3L1615.4 784.1M1384.5 782.7L1618.8 777.5M1380.9 802.3L1619.9 812.4M1379.4 796.5L1619.9 804.8M1386.4 790.8L1617.3 807.6M1386.4 804.5L1622.9 797.6M1383.8 811.9L1623.8 814.0M1386.7 794.7L1619.6 777.8M1385.2 802.9L1616.3 799.3M1387.2 791.3L1621.4 809.8M1386.4 825.5L1620.0 823.8M1385.5 798.0L1622.1 800.7M1384.2 801.6L1616.6 798.5M1389.0 815.9L1620.6 823.3M1391.0 795.5L1619.6 789.6M1387.9 782.2L1620.4 801.0M1384.0 815.7L1618.1 819.5M1388.6 783.6L1617.7 801.0M1387.6 823.8L1620.1 803.2M1385.2 810.5L1624.4 786.3M1387.0 824.3L1620.9 814.7M1388.5 802.6L1614.5 812.6M1380.3 805.4L1616.8 797.0M1381.2 784.9L1620.1 792.4M1385.6 791.4L1620.2 798.4M1378.7 784.3L1616.5 798.2M1385.0 807.6L1622.8 810.7M1383.3 815.4L1616.6 806.7M1388.3 785.3L1618.7 798.6M1386.1 799.9L1619.5 796.4M1379.4 778.7L1618.0 787.3M1387.5 828.8L1618.2 832.9M1387.6 800.3L1614.4 806.6" opacity="0.12"/>
<path d="M1383.7 793.8L1623.3 795.3M1388.9 791.9L1615.3 785.1M1388.3 807.3L1619.5 805.7M1386.1 815.9L1617.9 803.5M1380.3 808.1L1624.1 816.2M1383.5 787.0L1622.3 796.4M1386.2 791.9L1619.2 788.8M1384.4 799.1L1621.8 794.2M1378.5 800.1L1617.5 799.1M1380.6 813.9L1625.0 804.6M1384.3 800.7L1621.6 801.1M1381.8 814.2L1624.5 812.6M1384.9 804.0L1614.1 800.0M1382.1 807.0L1620.7 790.8M1386.1 808.8L1620.5 815.0M1382.5 795.1L1619.4 789.0M1386.4 812.8L1618.1 827.0M1384.7 814.9L1621.8 814.9M1384.3 808.6L1618.0 810.7M1384.4 831.2L1620.6 832.9M1385.2 815.5L1620.3 819.8M1388.4 818.4L1615.7 799.9M1385.3 794.8L1616.1 799.7M1385.3 809.3L1618.7 804.9M1384.4 784.5L1617.3 775.4M1386.3 816.4L1622.6 805.0M1388.6 812.5L1618.6 803.7M1386.0 777.6L1617.8 782.9M1389.6 803.4L1616.5 791.5M1386.8 777.6L1619.8 795.1M1384.1 814.8L1617.3 809.5M1383.8 797.8L1622.3 809.3M1388.2 812.8L1619.8 823.3M1386.0 805.1L1621.2 809.4M1380.8 803.3L1617.0 804.3M1382.3 794.0L1618.7 799.3M1388.9 810.0L1616.5 813.4M1390.8 792.3L1613.5 784.8M1385.3 804.4L1618.4 791.1M1387.9 809.0L1625.4 802.6M1385.8 777.6L1624.2 770.3M1389.5 810.3L1622.1 801.9M1386.2 820.0L1617.6 832.8M1382.0 806.1L1623.1 783.8M1385.2 808.3L1615.5 814.7" opacity="0.12"/>
<path d="M1503.9 584.6L1506.6 577.4M1493.7 587.0L1489.9 580.1M1489.1 609.3L1483.0 613.6M1495.1 614.4L1494.1 622.6M1487.5 606.2L1480.1 612.2M1516.8 594.5L1523.2 591.1M1501.4 616.0L1500.7 625.1M1503.4 616.0L1499.6 625.7M1487.7 593.9L1478.8 592.8M1516.4 607.0L1524.3 607.7M1487.2 595.1L1479.6 595.9M1505.9 585.0L1504.1 577.3M1486.4 599.7L1476.0 597.7M1491.1 611.6L1480.5 617.4M1491.4 588.7L1481.9 586.4M1517.8 599.0L1525.3 600.6M1486.4 601.1L1478.9 604.8M1517.8 599.6L1530.1 601.2M1513.7 589.7L1521.1 584.9M1497.5 585.2L1488.4 578.6M1487.5 606.2L1476.9 604.0M1517.8 598.6L1525.8 590.9M1505.8 585.0L1509.9 576.4M1493.5 587.1L1491.2 579.3M1501.0 616.0L1498.6 624.7M1500.4 584.6L1501.3 575.8M1488.4 592.5L1476.6 591.4M1517.3 596.2L1523.3 592.6M1499.3 584.8L1499.2 573.1M1500.7 616.0L1497.5 625.3M1496.5 585.6L1490.6 577.1M1487.7 593.9L1480.9 589.3M1501.8 616.0L1505.2 624.4M1504.1 615.9L1506.5 625.9M1515.8 608.1L1520.9 613.6M1507.4 585.5L1508.8 575.8M1494.8 614.3L1486.7 617.4M1515.5 608.5L1519.8 614.7M1489.3 609.5L1481.8 616.0M1491.2 588.9L1486.1 582.2M1500.5 584.6L1504.3 576.2M1515.9 607.8L1525.2 611.1M1505.1 584.8L1505.7 574.9M1517.7 602.6L1531.8 606.7M1507.0 585.3L1508.9 573.1M1486.4 599.5L1479.2 600.2M1496.8 585.5L1492.3 577.1M1486.4 599.0L1476.2 600.4M1498.3 585.0L1493.6 577.0M1510.2 586.8L1513.6 580.0M1516.8 606.0L1527.6 604.6M1499.5 615.8L1499.9 623.4M1515.0 591.2L1520.5 585.0M1493.7 587.0L1488.3 580.8M1486.4 600.4L1478.2 603.2M1492.0 588.3L1487.7 579.7M1508.6 614.7L1513.2 620.8M1492.6 612.8L1487.7 618.8M1487.4 594.6L1481.0 591.4M1517.0 595.1L1525.7 594.5M1493.7 613.6L1489.2 620.8M1496.8 585.5L1489.4 576.6M1508.8 614.5L1514.0 622.6M1499.3 584.8L1496.6 573.1M1489.8 610.2L1482.6 612.6M1491.6 588.6L1487.9 578.7M1486.4 598.9L1476.0 598.8M1513.1 589.1L1522.0 584.8M1506.3 615.5L1509.0 626.6M1512.9 611.8L1518.8 617.2M1491.5 611.9L1489.4 619.4M1516.5 594.0L1526.5 586.3M1516.9 605.7L1525.4 607.9M1489.6 590.7L1482.5 585.0M1501.7 584.6L1503.5 576.5M1488.8 608.7L1476.7 614.1M1497.4 585.3L1496.1 576.4M1516.3 593.4L1523.0 587.9M1512.6 612.0L1519.4 621.5M1507.2 615.2L1510.5 624.0" opacity="0.22"/>
<path d="M1490.7 611.2L1481.2 620.1M1487.0 604.6L1479.2 607.8M1492.5 612.8L1487.6 620.7M1503.6 616.0L1505.2 628.0M1516.7 606.3L1531.2 614.3M1511.7 612.8L1516.6 621.0M1516.0 607.7L1526.5 607.2M1514.5 610.0L1518.4 617.9M1517.1 595.6L1523.3 589.8M1510.1 613.9L1514.2 621.5M1504.3 584.7L1508.4 574.2M1486.6 597.7L1478.8 593.2M1486.4 601.0L1477.0 603.6M1517.1 595.4L1523.1 591.4M1509.2 614.4L1515.9 618.6M1503.0 584.6L1506.6 571.4M1508.6 614.6L1512.2 621.3M1507.5 615.1L1507.3 624.1M1501.9 584.6L1501.6 572.1M1491.3 611.8L1485.9 616.9M1501.6 584.6L1503.1 577.5M1499.4 615.8L1497.5 623.3M1494.0 586.8L1494.6 578.7M1487.5 594.3L1482.0 580.8M1506.9 585.3L1508.7 571.5M1490.0 590.2L1486.5 580.4M1517.8 598.9L1530.2 600.0M1488.9 591.7L1481.5 588.4M1504.4 584.7L1499.3 572.7M1516.5 593.9L1528.5 582.9M1487.1 595.4L1477.0 601.7M1487.3 594.9L1478.5 585.7M1507.2 585.4L1509.6 576.5M1510.7 613.5L1515.6 626.5M1517.5 597.1L1525.9 598.3M1490.3 610.8L1480.2 617.7M1509.1 614.4L1510.6 621.6M1486.8 596.7L1479.1 591.8M1517.2 604.9L1526.4 606.2M1497.9 585.1L1497.4 575.8M1488.4 608.1L1477.8 615.0M1487.3 594.8L1477.1 595.0M1487.7 594.0L1480.7 590.0M1491.9 612.3L1488.9 620.1M1517.8 599.0L1525.3 596.3M1517.8 599.3L1531.8 598.4M1514.3 590.3L1521.4 586.6M1517.6 602.9L1528.7 603.2M1486.7 603.5L1474.8 608.2M1515.6 608.4L1524.3 612.2M1502.9 616.0L1506.1 628.1M1506.8 585.3L1511.2 574.7M1509.1 586.2L1511.2 579.5M1513.6 589.5L1518.8 582.2M1514.9 609.5L1517.9 616.5M1514.5 610.1L1521.0 616.0M1489.6 590.7L1482.6 588.5M1508.5 614.7L1511.4 626.6M1489.6 609.8L1481.4 618.2M1517.6 603.1L1525.2 604.5M1495.7 585.9L1492.6 576.6M1493.2 587.3L1487.6 579.3M1496.7 615.1L1489.1 621.5M1486.4 599.6L1477.5 594.5M1506.6 585.2L1506.3 577.3M1510.0 613.9L1514.5 621.8M1492.1 588.1L1483.7 582.7M1517.2 604.7L1525.7 614.3M1510.3 613.7L1517.6 617.8M1494.2 586.7L1487.9 582.4M1488.7 608.5L1481.5 615.6M1486.5 602.3L1473.5 602.5M1498.9 584.9L1493.9 578.0M1508.9 614.5L1515.5 621.4M1490.4 610.9L1481.8 615.5M1486.4 599.2L1476.7 600.2M1489.3 609.4L1480.2 615.7M1486.6 603.1L1476.3 602.0M1508.6 585.9L1508.4 578.4M1516.1 593.1L1527.9 593.0" opacity="0.22"/>
<path d="M1376.8 785.6L1371.3 774.3M1405.1 802.6L1415.0 798.0M1377.8 823.2L1377.2 835.8M1371.0 789.5L1359.7 777.1M1372.6 788.1L1369.3 773.5M1375.7 822.2L1368.3 828.2M1403.7 796.8L1415.0 790.8M1383.1 824.4L1382.3 836.1M1364.7 804.1L1356.0 812.0M1404.9 807.6L1419.9 804.7M1379.3 823.7L1378.8 832.4M1385.0 824.4L1385.0 832.9M1364.7 802.4L1355.8 806.4M1402.4 814.4L1410.2 818.2M1375.5 822.2L1377.3 831.7M1403.4 812.5L1409.5 821.0M1399.4 790.0L1404.4 781.4M1395.5 787.0L1404.8 780.3M1365.2 799.7L1358.4 792.2M1367.7 793.5L1359.5 786.8M1365.5 798.3L1356.1 801.6M1382.2 784.1L1376.7 776.3M1405.1 805.6L1418.5 808.7M1371.5 789.0L1364.8 780.1M1365.0 808.2L1355.4 811.7M1370.2 790.3L1363.8 783.7M1365.7 810.5L1358.3 816.2M1393.3 822.6L1400.6 836.9M1369.9 817.8L1360.9 827.6M1386.2 784.0L1386.9 774.8M1365.8 811.0L1354.1 811.8M1404.6 808.8L1416.1 807.3M1405.1 804.1L1415.2 802.3M1366.5 795.7L1361.1 787.1M1399.1 789.8L1409.7 785.1M1364.7 804.7L1355.1 802.8M1395.7 821.3L1401.5 830.6M1386.7 784.0L1386.9 773.4M1390.0 823.8L1387.9 835.5M1365.2 808.7L1353.6 808.5M1366.7 813.1L1357.8 816.3M1403.5 796.2L1414.0 791.2M1404.5 799.2L1420.3 797.8M1364.8 802.1L1351.2 803.3M1392.0 785.2L1397.8 777.0M1386.0 824.4L1387.1 839.3M1402.6 794.4L1407.6 783.9M1364.8 806.9L1353.5 813.6M1404.6 809.0L1414.9 813.9M1374.9 821.8L1371.6 831.6M1382.6 824.3L1377.6 833.2M1403.9 811.1L1415.2 816.8M1375.5 786.3L1368.9 769.4M1386.7 784.0L1388.1 773.4M1404.0 810.9L1411.9 813.3M1384.3 824.4L1384.0 834.2M1379.2 784.8L1376.6 776.6M1403.3 795.7L1409.3 784.4M1366.0 811.4L1356.7 817.0M1368.9 791.8L1354.8 785.4M1403.5 796.1L1414.6 788.0M1390.6 823.6L1399.2 833.6M1402.8 794.8L1411.8 790.5M1397.4 820.1L1406.7 826.2M1404.6 799.7L1414.0 794.6M1392.0 823.2L1389.8 833.9M1391.5 785.1L1400.6 776.8M1366.2 812.1L1356.1 817.0M1387.1 824.3L1388.6 836.0M1376.4 785.8L1375.7 775.1M1364.7 803.1L1355.8 804.0M1404.8 808.1L1417.9 810.3M1403.8 811.6L1412.8 816.9M1404.9 807.3L1419.7 807.0M1373.6 787.4L1367.4 781.0M1405.0 801.8L1416.3 795.8M1395.5 821.5L1394.7 832.6M1397.9 788.7L1409.3 785.7M1380.3 823.9L1380.5 836.6M1397.5 820.1L1404.2 826.7" opacity="0.22"/>
<path d="M1402.7 794.6L1411.3 791.8M1383.6 824.4L1378.7 835.8M1376.5 785.8L1368.4 779.4M1396.9 820.5L1407.5 831.9M1365.0 800.5L1352.7 798.4M1385.7 824.4L1387.6 834.0M1399.3 818.4L1408.9 821.7M1377.2 785.5L1372.8 778.1M1379.5 784.7L1381.3 772.8M1375.4 822.1L1371.7 831.3M1393.9 822.3L1403.3 834.8M1379.0 784.8L1373.7 775.2M1381.2 784.3L1370.2 773.9M1400.0 790.7L1406.8 785.9M1368.5 792.3L1359.9 785.6M1393.8 786.0L1398.1 776.7M1369.1 791.5L1361.2 782.6M1394.5 822.0L1392.8 832.7M1398.2 819.4L1406.3 826.3M1400.4 817.2L1406.2 825.6M1371.2 819.1L1365.9 830.1M1391.2 823.4L1398.5 833.2M1370.1 818.1L1361.0 820.1M1404.8 808.1L1416.1 818.2M1366.4 796.0L1353.6 793.7M1399.2 789.9L1402.8 779.2M1387.9 824.2L1392.1 838.6M1373.1 820.7L1363.8 829.2M1389.8 784.5L1391.4 770.0M1387.0 824.3L1389.8 840.0M1401.0 816.4L1412.9 824.7M1400.5 791.3L1409.4 788.3M1398.7 789.3L1403.5 780.2M1401.4 792.5L1412.9 786.4M1404.4 798.8L1416.2 804.1M1386.9 784.0L1385.2 774.1M1390.4 823.7L1395.2 838.4M1367.6 793.7L1356.8 789.8M1405.0 802.1L1413.1 799.1M1371.1 819.0L1362.1 829.1M1404.4 809.7L1414.6 814.8M1396.5 787.6L1400.1 778.8M1404.8 800.2L1414.6 789.2M1372.7 820.4L1365.6 826.1M1392.2 785.3L1395.2 774.5M1375.8 786.1L1369.5 780.0M1394.7 821.9L1392.8 834.7M1389.5 823.9L1397.9 836.0M1400.7 816.8L1406.2 827.4M1385.8 784.0L1384.3 774.8M1366.9 794.9L1359.7 786.6M1364.7 802.3L1354.7 799.1M1404.9 801.0L1413.8 797.1M1386.1 784.0L1386.3 773.7M1395.9 787.2L1407.4 779.7M1385.0 784.0L1383.8 769.8M1379.0 784.8L1375.0 772.9M1389.2 784.4L1391.2 774.9M1405.0 802.2L1418.0 797.8M1364.7 802.8L1356.5 802.2M1403.6 811.9L1410.2 817.7M1366.5 795.6L1352.4 796.7M1379.7 823.8L1369.6 829.1M1366.1 796.7L1356.6 788.0M1372.8 787.9L1363.1 780.4M1380.5 784.4L1374.9 774.8M1365.1 799.8L1356.4 800.5M1384.1 784.0L1384.1 775.4M1401.2 792.2L1409.9 782.1M1399.8 817.9L1415.6 824.7M1365.3 799.1L1356.6 800.1M1405.1 803.7L1417.1 798.9M1372.0 819.8L1366.2 826.0M1405.1 804.7L1414.1 807.3M1370.1 818.0L1363.3 826.5M1367.1 813.9L1355.4 812.8M1387.5 824.3L1388.6 841.3M1371.7 788.8L1362.2 780.0M1387.5 784.1L1396.2 774.7M1398.8 789.5L1409.2 786.6" opacity="0.22"/>
<path d="M1617.5 822.7L1622.0 833.0M1604.3 814.6L1598.8 820.5M1601.3 805.9L1590.8 808.5M1603.2 796.1L1597.4 787.2M1601.6 800.9L1584.3 800.7M1636.2 812.3L1646.9 813.3M1619.1 786.0L1618.9 775.9M1627.9 788.0L1635.9 781.7M1633.7 792.7L1639.5 787.0M1610.2 788.6L1604.9 781.4M1623.0 786.3L1630.3 773.4M1601.3 806.3L1593.4 806.9M1633.8 792.7L1645.9 792.0M1623.8 822.3L1622.9 832.9M1602.1 810.1L1593.2 815.4M1616.0 786.4L1616.3 771.4M1635.8 795.7L1646.9 786.8M1628.5 788.3L1634.2 782.7M1636.7 811.2L1644.8 814.3M1627.7 820.9L1636.3 830.6M1619.2 786.0L1622.3 777.3M1602.4 798.0L1595.5 793.3M1619.4 786.0L1618.6 777.5M1633.6 816.3L1642.7 822.6M1619.3 786.0L1617.6 774.7M1616.1 786.4L1612.4 774.1M1636.1 796.3L1645.8 796.3M1634.1 815.7L1638.2 823.4M1637.2 809.7L1647.4 815.8M1620.9 786.1L1623.6 775.1M1636.6 811.3L1648.1 817.0M1604.7 815.2L1592.3 819.6M1601.2 804.1L1590.3 796.5M1601.6 800.6L1583.3 804.0M1603.3 795.9L1591.8 793.0M1614.4 786.8L1610.7 772.8M1637.6 800.6L1648.1 798.0M1623.0 786.3L1626.9 779.1M1628.5 788.3L1638.0 777.4M1637.9 803.3L1645.6 799.3M1601.5 807.3L1587.8 812.3M1616.5 822.5L1615.3 834.8M1637.3 809.5L1650.3 810.9M1638.0 804.7L1648.3 803.3M1612.4 787.5L1607.4 780.6M1634.8 814.7L1644.0 821.5M1602.6 811.4L1591.2 813.6M1613.3 787.2L1612.4 777.8M1606.8 791.2L1601.5 784.9M1601.4 801.7L1592.8 802.7M1637.9 806.3L1647.5 805.2M1626.6 787.4L1630.4 778.9M1637.7 801.5L1646.6 805.2M1601.5 807.6L1590.9 810.0M1613.3 787.1L1605.8 777.1M1601.3 803.3L1592.8 803.5M1603.0 812.3L1599.8 826.2M1601.8 809.0L1591.6 807.0M1611.4 787.9L1608.7 778.6M1602.2 798.5L1588.5 792.3M1602.8 796.9L1594.3 794.5M1623.5 786.5L1618.2 774.4M1608.7 819.2L1603.7 827.5M1624.1 822.2L1632.1 827.4M1604.2 794.5L1595.2 790.2M1635.2 794.6L1642.3 787.3M1637.0 798.4L1645.9 791.8M1602.2 798.5L1594.8 794.8M1624.3 786.6L1633.2 777.2M1629.8 819.7L1630.4 830.9M1616.8 786.2L1614.0 778.3M1618.0 822.7L1612.7 829.5M1601.4 807.0L1591.9 811.1M1629.1 820.1L1631.2 831.6M1637.1 798.8L1645.1 793.9M1637.0 798.5L1650.5 799.2M1627.7 820.9L1636.0 827.5M1618.5 822.7L1617.2 834.1M1601.4 801.6L1594.0 796.5M1637.2 809.6L1645.5 814.3" opacity="0.22"/>
<path d="M1629.9 789.2L1634.4 782.4M1637.9 803.3L1647.7 800.4M1602.3 798.1L1588.1 800.6M1603.5 813.3L1593.2 816.0M1606.3 791.7L1601.8 785.0M1622.5 822.5L1623.8 832.2M1637.7 801.4L1646.7 803.0M1629.0 788.6L1636.6 780.9M1610.9 820.6L1603.9 833.9M1609.2 819.6L1606.3 829.5M1633.5 816.4L1640.6 826.2M1602.4 811.0L1596.9 817.3M1602.0 799.1L1592.3 798.9M1601.4 807.3L1590.8 816.2M1602.1 798.7L1594.1 793.8M1606.0 816.8L1598.4 824.5M1622.0 786.2L1629.6 777.2M1629.3 788.8L1634.7 775.0M1607.8 790.3L1601.6 783.8M1602.7 811.6L1591.4 818.7M1614.9 786.6L1621.0 776.8M1623.4 822.4L1621.0 834.5M1636.1 812.5L1642.4 820.1M1620.5 822.8L1618.4 832.0M1620.5 822.8L1618.6 834.6M1625.9 821.7L1632.0 830.8M1635.9 796.0L1647.8 782.9M1603.0 812.3L1595.6 819.4M1636.2 812.2L1647.2 822.2M1617.8 822.7L1612.3 834.9M1604.2 814.4L1594.6 821.6M1604.8 793.5L1593.1 784.8M1606.0 792.0L1599.4 782.1M1602.4 797.9L1589.9 795.4M1637.9 802.5L1647.9 802.6M1623.3 786.4L1624.9 776.0M1610.9 788.2L1604.0 782.9M1619.5 786.0L1613.8 773.2M1602.2 810.3L1594.1 811.6M1635.3 794.8L1642.4 789.4M1609.9 820.0L1606.8 829.2M1630.1 819.5L1633.7 829.9M1607.8 790.3L1600.2 781.7M1615.2 822.2L1612.2 831.9M1606.0 816.8L1602.7 826.4M1604.1 794.6L1593.5 784.1M1602.2 798.5L1591.0 790.8M1631.7 818.2L1638.8 822.2M1606.6 817.4L1599.4 821.1M1602.8 796.9L1594.4 784.6M1611.9 821.1L1607.2 829.0M1629.4 819.9L1633.4 829.2M1603.3 795.9L1594.9 794.5M1618.3 786.1L1616.7 777.2M1637.9 805.7L1646.0 805.0M1637.5 800.1L1647.7 798.1M1628.5 820.5L1632.8 832.5M1601.7 800.3L1593.4 804.5M1602.7 797.2L1591.6 796.5M1635.5 813.6L1648.1 815.7M1625.4 787.0L1626.7 777.6M1632.9 817.1L1640.0 824.6M1617.9 786.1L1615.0 778.2M1601.7 800.3L1590.2 799.5M1635.9 796.0L1645.6 789.7M1601.6 808.2L1592.2 804.3M1628.5 820.5L1631.6 834.2M1607.8 818.5L1600.9 823.7M1603.2 812.7L1591.9 814.6M1610.9 788.2L1605.0 779.1M1632.9 791.7L1643.8 790.0M1623.6 822.3L1629.2 830.7M1604.5 794.0L1595.8 792.9M1606.7 817.5L1603.6 825.1M1637.9 802.7L1647.7 797.7M1601.5 807.4L1591.7 806.8M1601.9 809.4L1592.5 819.3M1601.7 808.4L1590.6 814.6M1611.5 787.9L1605.1 773.6M1607.7 818.4L1597.1 818.8" opacity="0.22"/>
</g>
<g filter="url(#bl1)" fill="#000084">
<path d="M1484.45 590.39Q1425.7 692.79 1366.95 795.19L1399.05 813.61Q1457.8 711.21 1516.55 608.81Z" opacity="0.14"/>
<path d="M1487.06 591.89Q1428.31 694.29 1369.56 796.69L1396.44 812.11Q1455.19 709.71 1513.94 607.31Z" opacity="0.29"/>
<path d="M1489.66 593.38Q1430.91 695.78 1372.16 798.18L1393.84 810.62Q1452.59 708.22 1511.34 605.82Z" opacity="0.43"/>
<path d="M1492.26 594.87Q1433.51 697.27 1374.76 799.67L1391.24 809.13Q1449.99 706.73 1508.74 604.33Z" opacity="0.71"/>
<path d="M1482.36 610.44Q1542.1 711.86 1598.36 815.24L1636.64 793.56Q1576.9 692.14 1520.64 588.76Z" opacity="0.13"/>
<path d="M1484.53 609.21Q1544.27 710.62 1600.53 814.01L1634.47 794.79Q1574.73 693.38 1518.47 589.99Z" opacity="0.27"/>
<path d="M1486.71 607.98Q1546.45 709.39 1602.71 812.78L1632.29 796.02Q1572.55 694.61 1516.29 591.22Z" opacity="0.42"/>
<path d="M1488.88 606.75Q1548.62 708.16 1604.88 811.55L1630.12 797.25Q1570.38 695.84 1514.12 592.45Z" opacity="1"/>
<path d="M1384.9 830.4Q1502.25 820.4 1619.6 830.4L1619.6 778.4Q1502.25 788.4 1384.9 778.4Z" opacity="0.13"/>
<path d="M1384.9 828.07Q1502.25 818.07 1619.6 828.07L1619.6 780.73Q1502.25 790.73 1384.9 780.73Z" opacity="0.27"/>
<path d="M1384.9 825.73Q1502.25 815.73 1619.6 825.73L1619.6 783.07Q1502.25 793.07 1384.9 783.07Z" opacity="0.42"/>
<path d="M1384.9 823.4Q1502.25 813.4 1619.6 823.4L1619.6 785.4Q1502.25 795.4 1384.9 785.4Z" opacity="1"/>
<path d="M1384.9 808.4Q1502.25 808.4 1619.6 808.4L1619.6 800.4Q1502.25 800.4 1384.9 800.4Z" fill="#00009c" filter="url(#bl3)"/>
<circle cx="1502.1" cy="600.3" r="25.5" opacity="0.25"/>
<circle cx="1502.1" cy="600.3" r="23.2" opacity="0.45"/>
<circle cx="1502.1" cy="600.3" r="21"/>
<circle cx="1384.9" cy="804.2" r="31.5" opacity="0.25"/>
<circle cx="1384.9" cy="804.2" r="29.2" opacity="0.45"/>
<circle cx="1384.9" cy="804.2" r="27"/>
<circle cx="1619.6" cy="804.4" r="29" opacity="0.25"/>
<circle cx="1619.6" cy="804.4" r="26.7" opacity="0.45"/>
<circle cx="1619.6" cy="804.4" r="24.5"/>
</g>
<circle cx="1384.9" cy="804.1" r="24" fill="url(#hotG)"/>
<ellipse cx="1384.9" cy="804.1" rx="15.2" ry="16.8" fill="url(#hotS)"/>
<circle cx="1619.6" cy="804.4" r="17.5" fill="url(#hotC)"/>
<circle cx="1502.1" cy="600.3" r="14" fill="url(#hotB2)"/>
<text transform="translate(1338.01 564) scale(0.9604 1.0000)" font-size="18.4" stroke-width="0.21">n = 93344</text>
<text transform="translate(1476.72 566.7) scale(1.0486 1.0000)" font-size="20.4" stroke-width="0.21">scout</text>
<text transform="translate(1350.42 852.5) scale(1.0564 1.0000)" font-size="20.4" stroke-width="0.21">swarm</text>
<text transform="translate(1601.93 852.5) scale(1.0783 1.0000)" font-size="20.4" stroke-width="0.21">loner</text>
<circle cx="1830.5" cy="604.7" r="27.76" fill="url(#gR2)"/>
<circle cx="1721.7" cy="791.16" r="27.76" fill="url(#gB2)"/>
<circle cx="1932.55" cy="792.07" r="27.76" fill="url(#gY2)"/>
<path d="M1727.16 756.49L1795.32 638.28M1795.59 637.81L1779.23 645.97M1802.87 642.1L1734.81 760.31M1734.53 760.78L1750.9 752.61M1921.81 763.22L1853.93 645.01M1853.65 644.54L1852.48 662.79M1860.66 640.83L1929.09 759.04M1929.36 759.51L1930.47 741.25M1758.65 787.25L1895.33 787.25M1895.88 787.25L1880.63 777.14M1895.33 795.62L1758.65 795.62M1758.1 795.62L1773.35 805.72" fill="none" stroke="#3d3d3d" stroke-width="3.28"/>
<text transform="translate(1815.08 613.02) scale(0.8553 1.0000)" font-size="26.03" stroke-width="0.33">Sc</text>
<text transform="translate(1705.21 799.62) scale(0.9208 1.0000)" font-size="26.03" stroke-width="0.31">Sw</text>
<text transform="translate(1925.53 798.71) scale(0.8332 1.0000)" font-size="26.03" stroke-width="0.34">L</text>
<text transform="translate(1728.07 721.18) rotate(-60) scale(1.0188 1) translate(-29.12 8.01)" font-size="23.3" stroke-width="0.26">0.026</text>
<text transform="translate(1808.54 661.27) rotate(-60) scale(1.0188 1) translate(-29.09 8.01)" font-size="23.3" stroke-width="0.26">0.029</text>
<text transform="translate(1888.23 658.12) rotate(60) scale(1.0188 1) translate(-29.09 8.01)" font-size="23.3" stroke-width="0.26">0.049</text>
<text transform="translate(1893.78 743.84) rotate(60) scale(1.0188 1) translate(-29.06 8.01)" font-size="23.3" stroke-width="0.26">0.051</text>
<text transform="translate(1753.91 779.88) scale(1.0188 1.0000)" font-size="23.3" stroke-width="0.25">0.427</text>
<text transform="translate(1837.06 822.19) scale(1.0188 1.0000)" font-size="23.3" stroke-width="0.25">0.419</text>
<path d="M1178.4 547.3V863.3" stroke="#555" stroke-width="1" fill="none"/>
<path d="M1015.4 709.2H1332.2" stroke="#555" stroke-width="1" fill="none"/>
<path d="M1332.2 547.3V863.3" stroke="#aaa" stroke-width="1.4" fill="none"/>
<path d="M1670.3 547.3V863.3" stroke="#000" stroke-width="1.1" fill="none"/>
<path d="M1015.4 547.3V863.3" stroke="#777" stroke-width="1.9" fill="none"/>
<path d="M1014.45 863.3H1980.9" stroke="#000" stroke-width="2.2" fill="none"/>
<path d="M1014.45 547.3H1980.4" stroke="#000" stroke-width="2.1" fill="none"/>
<path d="M1980.4 547.3V863.3" stroke="#000" stroke-width="1.3" fill="none"/>
</g>
</svg>
</body>
</html>
